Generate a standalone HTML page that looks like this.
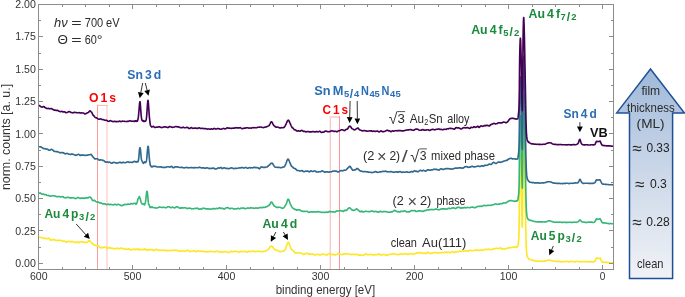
<!DOCTYPE html>
<html><head><meta charset="utf-8"><title>XPS survey spectra</title>
<style>
html,body{margin:0;padding:0;background:#fff;}
body{width:685px;height:297px;overflow:hidden;}
svg{display:block;font-family:"Liberation Sans",sans-serif;}
</style></head><body>
<svg width="685" height="297" viewBox="0 0 685 297">
<rect width="685" height="297" fill="#fff"/>
<path d="M107,105 V270" stroke="#ffdede" stroke-width="2" fill="none"/>
<path d="M97,105.4 H108" stroke="#ffb4b4" stroke-width="1" fill="none"/>
<path d="M97.5,104.9 V270" stroke="#ff9a9a" stroke-width="1" fill="none"/>
<path d="M330.3,116.2 V270" stroke="#ffc4c4" stroke-width="1.3" fill="none"/>
<path d="M329.6,117 H340" stroke="#ffd6d6" stroke-width="2" fill="none"/>
<path d="M339.5,116.2 V270" stroke="#ff9494" stroke-width="1" fill="none"/>
<clipPath id="cp"><rect x="38.5" y="4.5" width="575" height="265"/></clipPath>
<g clip-path="url(#cp)">
<path d="M38.6,237.4 L39.1,237.3 L39.6,237.2 L40.1,237.2 L40.6,237.4 L41.1,237.6 L41.6,237.7 L42.1,237.8 L42.6,237.9 L43.1,238.1 L43.6,238.2 L44.1,238.4 L44.6,238.4 L45.1,238.6 L45.6,238.5 L46.1,238.5 L46.6,238.5 L47.1,238.7 L47.6,238.7 L48.1,238.3 L48.6,238.1 L49.1,238.4 L49.6,239.1 L50.1,239.9 L50.6,240.1 L51.1,240.2 L51.6,239.9 L52.1,239.9 L52.6,239.8 L53.1,239.7 L53.6,239.6 L54.1,239.6 L54.6,239.8 L55.1,240.0 L55.6,240.3 L56.1,240.3 L56.6,240.4 L57.1,240.4 L57.6,240.5 L58.1,240.4 L58.6,240.4 L59.1,240.3 L59.6,240.2 L60.1,240.2 L60.6,240.3 L61.1,240.5 L61.6,240.7 L62.1,241.0 L62.6,241.1 L63.1,241.1 L63.6,241.1 L64.1,241.1 L64.6,241.3 L65.1,241.5 L65.6,241.7 L66.1,242.0 L66.6,242.1 L67.1,242.0 L67.6,241.7 L68.1,241.4 L68.6,241.4 L69.1,241.5 L69.6,241.7 L70.1,241.6 L70.6,241.6 L71.1,241.6 L71.6,241.7 L72.1,241.5 L72.6,241.6 L73.1,241.8 L73.6,242.0 L74.1,242.1 L74.6,242.2 L75.1,242.5 L75.6,242.5 L76.1,242.6 L76.6,242.2 L77.1,242.0 L77.6,241.9 L78.1,242.3 L78.6,242.6 L79.1,242.5 L79.6,242.1 L80.1,241.8 L80.6,241.7 L81.1,241.7 L81.6,242.0 L82.1,242.0 L82.6,242.1 L83.1,242.0 L83.6,242.3 L84.1,242.3 L84.6,242.3 L85.1,242.3 L85.6,242.4 L86.1,242.5 L86.6,242.5 L87.1,242.3 L87.6,242.0 L88.1,241.4 L88.6,241.0 L89.1,240.6 L89.6,240.7 L90.1,241.2 L90.6,241.8 L91.1,242.5 L91.6,243.0 L92.1,243.5 L92.6,243.9 L93.1,244.1 L93.6,244.6 L94.1,245.0 L94.6,245.4 L95.1,245.4 L95.6,245.4 L96.1,245.5 L96.6,245.8 L97.1,245.9 L97.6,246.0 L98.1,245.9 L98.6,246.0 L99.1,246.5 L99.6,247.3 L100.1,247.7 L100.6,247.8 L101.1,247.6 L101.6,247.6 L102.1,247.6 L102.6,247.8 L103.1,247.5 L103.6,247.2 L104.1,247.0 L104.6,247.0 L105.1,247.1 L105.6,247.2 L106.1,247.5 L106.6,247.9 L107.1,248.2 L107.6,248.4 L108.1,248.2 L108.6,247.8 L109.1,247.5 L109.6,247.5 L110.1,247.8 L110.6,248.1 L111.1,248.2 L111.6,248.0 L112.1,248.0 L112.6,248.2 L113.1,248.5 L113.6,248.7 L114.1,248.7 L114.6,248.7 L115.1,248.6 L115.6,248.4 L116.1,248.3 L116.6,248.4 L117.1,248.4 L117.6,248.4 L118.1,248.2 L118.6,248.5 L119.1,248.7 L119.6,248.7 L120.1,248.4 L120.6,248.1 L121.1,248.0 L121.6,248.2 L122.1,248.5 L122.6,248.5 L123.1,248.5 L123.6,248.6 L124.1,249.0 L124.6,249.2 L125.1,249.2 L125.6,249.0 L126.1,249.0 L126.6,249.3 L127.1,249.4 L127.6,249.3 L128.1,249.0 L128.6,248.8 L129.1,248.9 L129.6,249.4 L130.1,249.8 L130.6,249.9 L131.1,249.7 L131.6,249.5 L132.1,249.3 L132.6,249.3 L133.1,249.5 L133.6,249.4 L134.1,249.2 L134.6,249.0 L135.0,249.2 L135.2,249.5 L135.4,249.7 L135.6,249.7 L135.8,249.5 L136.0,249.5 L136.2,249.5 L136.4,249.6 L136.6,249.5 L136.8,249.3 L137.0,249.1 L137.2,248.9 L137.4,249.0 L137.6,249.2 L137.8,249.2 L138.0,249.1 L138.2,249.0 L138.4,249.3 L138.6,249.6 L138.8,249.6 L139.0,249.5 L139.2,249.2 L139.4,249.2 L139.6,249.4 L139.8,249.8 L140.0,249.9 L140.2,250.0 L140.4,249.8 L140.6,249.7 L140.8,249.6 L141.0,249.4 L141.2,249.4 L141.4,249.4 L141.6,249.5 L141.8,249.5 L142.0,249.5 L142.2,249.5 L142.4,249.5 L142.6,249.6 L142.8,249.7 L143.0,249.8 L143.2,249.7 L143.4,249.6 L143.6,249.4 L143.8,249.4 L144.0,249.3 L144.2,249.4 L144.4,249.2 L144.6,249.2 L144.8,248.9 L145.0,248.9 L145.2,249.0 L145.4,249.3 L145.6,249.6 L145.8,249.7 L146.0,250.0 L146.2,250.0 L146.4,249.8 L146.6,249.6 L146.8,249.5 L147.0,249.8 L147.2,249.9 L147.4,250.0 L147.6,249.8 L147.8,249.8 L148.0,249.7 L148.2,249.9 L148.4,250.1 L148.6,250.0 L148.8,249.8 L149.0,249.5 L149.2,249.4 L149.4,249.5 L149.6,249.7 L149.8,249.8 L150.0,249.8 L150.2,249.7 L150.4,249.7 L150.6,249.6 L150.8,249.5 L151.0,249.4 L151.2,249.5 L151.4,249.7 L151.6,249.9 L151.8,249.9 L152.0,249.9 L152.2,249.8 L152.4,249.7 L152.6,249.9 L152.8,250.2 L153.0,250.4 L153.5,250.6 L154.0,250.4 L154.5,250.4 L155.0,250.0 L155.5,249.7 L156.0,249.3 L156.5,249.4 L157.0,249.6 L157.5,250.0 L158.0,250.2 L158.5,250.4 L159.0,250.3 L159.5,250.2 L160.0,250.1 L160.5,250.2 L161.0,250.4 L161.5,250.5 L162.0,250.4 L162.5,250.1 L163.0,249.9 L163.5,250.0 L164.0,250.3 L164.5,250.6 L165.0,250.4 L165.5,250.4 L166.0,250.2 L166.5,250.6 L167.0,250.5 L167.5,250.7 L168.0,250.5 L168.5,250.7 L169.0,250.6 L169.5,250.4 L170.0,250.2 L170.5,250.2 L171.0,250.4 L171.5,250.5 L172.0,250.6 L172.5,250.4 L173.0,250.4 L173.5,250.2 L174.0,250.2 L174.5,250.2 L175.0,250.3 L175.5,250.4 L176.0,250.2 L176.5,250.2 L177.0,250.2 L177.5,250.5 L178.0,250.8 L178.5,251.0 L179.0,251.1 L179.5,251.3 L180.0,251.2 L180.5,251.1 L181.0,250.9 L181.5,250.9 L182.0,250.9 L182.5,251.0 L183.0,250.9 L183.5,251.0 L184.0,251.0 L184.5,251.2 L185.0,251.2 L185.5,251.1 L186.0,250.8 L186.5,250.6 L187.0,250.5 L187.5,250.4 L188.0,250.4 L188.5,250.5 L189.0,251.1 L189.5,251.5 L190.0,251.7 L190.5,251.5 L191.0,251.3 L191.5,251.2 L192.0,251.2 L192.5,251.1 L193.0,250.9 L193.5,250.8 L194.0,250.8 L194.5,251.0 L195.0,251.3 L195.5,251.6 L196.0,251.7 L196.5,251.6 L197.0,251.1 L197.5,251.0 L198.0,250.9 L198.5,251.2 L199.0,251.3 L199.5,251.2 L200.0,251.0 L200.5,251.0 L201.0,251.2 L201.5,251.3 L202.0,251.4 L202.5,251.4 L203.0,251.4 L203.5,251.5 L204.0,251.5 L204.5,251.6 L205.0,251.6 L205.5,251.6 L206.0,251.6 L206.5,251.6 L207.0,251.7 L207.5,251.8 L208.0,251.9 L208.5,251.9 L209.0,251.6 L209.5,251.3 L210.0,251.2 L210.5,251.3 L211.0,251.5 L211.5,251.6 L212.0,251.5 L212.5,251.5 L213.0,251.5 L213.5,251.6 L214.0,251.8 L214.5,252.0 L215.0,251.8 L215.5,251.6 L216.0,251.4 L216.5,251.3 L217.0,251.2 L217.5,251.1 L218.0,251.5 L218.5,251.7 L219.0,251.9 L219.5,251.9 L220.0,251.9 L220.5,251.8 L221.0,251.8 L221.5,251.9 L222.0,252.0 L222.5,252.1 L223.0,252.1 L223.5,251.9 L224.0,251.7 L224.5,251.6 L225.0,251.7 L225.5,251.8 L226.0,251.8 L226.5,251.7 L227.0,251.9 L227.5,252.1 L228.0,252.4 L228.5,252.5 L229.0,252.5 L229.5,252.1 L230.0,251.8 L230.5,251.4 L231.0,251.4 L231.5,251.4 L232.0,251.6 L232.5,251.7 L233.0,251.6 L233.5,251.4 L234.0,251.3 L234.5,251.3 L235.0,251.3 L235.5,251.3 L236.0,251.2 L236.5,251.2 L237.0,251.5 L237.5,251.7 L238.0,252.0 L238.5,252.0 L239.0,252.1 L239.5,251.8 L240.0,251.7 L240.5,251.4 L241.0,251.3 L241.5,251.4 L242.0,251.6 L242.5,251.7 L243.0,251.5 L243.5,251.4 L244.0,251.4 L244.5,251.4 L245.0,251.4 L245.5,251.5 L246.0,251.8 L246.5,252.0 L247.0,252.1 L247.5,252.1 L248.0,251.7 L248.5,251.5 L249.0,251.1 L249.5,251.3 L250.0,251.3 L250.5,251.6 L251.0,251.5 L251.5,251.5 L252.0,251.3 L252.5,251.2 L253.0,251.1 L253.5,251.2 L254.0,251.2 L254.5,251.5 L255.0,251.6 L255.5,251.8 L256.0,251.6 L256.5,251.4 L257.0,251.3 L257.5,251.3 L258.0,251.4 L258.5,251.4 L259.0,251.5 L259.5,251.4 L260.0,251.3 L260.5,251.2 L261.0,251.4 L261.5,251.7 L262.0,251.9 L262.5,251.8 L263.0,251.5 L263.5,251.4 L264.0,251.3 L264.5,251.3 L265.0,251.2 L265.5,251.1 L266.0,250.8 L266.5,250.5 L267.0,250.2 L267.5,250.0 L268.0,249.7 L268.5,249.3 L269.0,248.6 L269.5,247.8 L270.0,247.0 L270.5,246.4 L271.0,246.1 L271.5,246.1 L272.0,246.4 L272.5,246.9 L273.0,247.6 L273.5,248.3 L274.0,248.9 L274.5,249.3 L275.0,249.6 L275.5,249.8 L276.0,250.0 L276.5,250.2 L277.0,250.3 L277.5,250.5 L278.0,250.8 L278.5,251.0 L279.0,251.3 L279.5,251.3 L280.0,251.6 L280.5,251.6 L281.0,251.6 L281.5,251.4 L282.0,251.4 L282.5,251.3 L283.0,251.2 L283.5,251.0 L284.0,250.9 L284.5,250.6 L285.0,249.9 L285.5,248.9 L286.0,247.6 L286.5,246.1 L287.0,244.6 L287.5,243.3 L288.0,242.4 L288.5,242.3 L289.0,243.2 L289.5,244.5 L290.0,246.0 L290.5,247.4 L291.0,248.5 L291.5,249.3 L292.0,249.9 L292.5,250.2 L293.0,250.5 L293.5,251.0 L294.0,251.6 L294.5,252.4 L295.0,252.7 L295.5,252.9 L296.0,252.9 L296.5,252.8 L297.0,252.8 L297.5,252.8 L298.0,252.7 L298.5,252.7 L299.0,252.7 L299.5,252.9 L300.0,253.0 L300.5,253.2 L301.0,253.2 L301.5,253.2 L302.0,253.2 L302.5,253.6 L303.0,254.1 L303.5,254.5 L304.0,254.3 L304.5,254.2 L305.0,253.9 L305.5,253.9 L306.0,253.5 L306.5,253.2 L307.0,253.3 L307.5,253.6 L308.0,253.9 L308.5,253.9 L309.0,254.0 L309.5,253.8 L310.0,253.9 L310.5,254.0 L311.0,254.3 L311.5,254.2 L312.0,254.1 L312.5,254.0 L313.0,254.1 L313.5,254.3 L314.0,254.6 L314.5,254.9 L315.0,255.1 L315.5,254.9 L316.0,254.6 L316.5,254.3 L317.0,254.3 L317.5,254.4 L318.0,254.6 L318.5,254.6 L319.0,254.5 L319.5,254.6 L320.0,254.9 L320.5,254.9 L321.0,254.8 L321.5,254.5 L322.0,254.4 L322.5,254.1 L323.0,254.2 L323.5,254.2 L324.0,254.3 L324.5,254.4 L325.0,254.5 L325.5,254.7 L326.0,254.9 L326.5,255.0 L327.0,254.9 L327.5,254.5 L328.0,254.0 L328.5,253.7 L329.0,253.7 L329.5,253.8 L330.0,254.1 L330.5,254.4 L331.0,254.7 L331.5,254.6 L332.0,254.4 L332.5,254.2 L333.0,254.4 L333.5,254.6 L334.0,254.9 L334.5,254.9 L335.0,254.9 L335.5,254.7 L336.0,254.6 L336.5,254.5 L337.0,254.3 L337.5,254.0 L338.0,253.6 L338.5,253.4 L339.0,253.6 L339.5,253.8 L340.0,254.2 L340.5,254.3 L341.0,254.4 L341.5,254.4 L342.0,254.6 L342.5,254.5 L343.0,254.4 L343.5,253.9 L344.0,253.7 L344.5,253.8 L345.0,254.1 L345.5,254.0 L346.0,253.8 L346.5,253.7 L347.0,253.6 L347.5,253.7 L348.0,253.7 L348.5,253.9 L349.0,254.1 L349.5,254.2 L350.0,254.3 L350.5,254.4 L351.0,254.6 L351.5,254.5 L352.0,254.3 L352.5,254.3 L353.0,254.3 L353.5,254.5 L354.0,254.4 L354.5,254.4 L355.0,254.6 L355.5,254.6 L356.0,254.5 L356.5,254.4 L357.0,254.3 L357.5,254.5 L358.0,254.6 L358.5,255.1 L359.0,255.2 L359.5,255.3 L360.0,254.9 L360.5,254.8 L361.0,254.9 L361.5,255.1 L362.0,255.3 L362.5,255.4 L363.0,255.5 L363.5,255.4 L364.0,255.1 L364.5,254.6 L365.0,254.2 L365.5,253.9 L366.0,253.9 L366.5,254.1 L367.0,254.4 L367.5,254.7 L368.0,254.8 L368.5,254.7 L369.0,254.5 L369.5,254.6 L370.0,254.6 L370.5,254.5 L371.0,254.4 L371.5,254.4 L372.0,254.6 L372.5,254.7 L373.0,254.8 L373.5,254.8 L374.0,254.9 L374.5,254.8 L375.0,254.8 L375.5,254.6 L376.0,254.7 L376.5,254.7 L377.0,254.8 L377.5,254.6 L378.0,254.4 L378.5,254.0 L379.0,253.9 L379.5,254.1 L380.0,254.5 L380.5,254.9 L381.0,255.1 L381.5,255.0 L382.0,254.8 L382.5,254.7 L383.0,254.7 L383.5,254.5 L384.0,254.4 L384.5,254.6 L385.0,254.8 L385.5,255.1 L386.0,255.1 L386.5,255.2 L387.0,255.0 L387.5,255.0 L388.0,254.8 L388.5,254.8 L389.0,254.6 L389.5,254.4 L390.0,254.2 L390.5,254.2 L391.0,254.3 L391.5,254.3 L392.0,254.1 L392.5,253.8 L393.0,253.7 L393.5,253.7 L394.0,253.9 L394.5,254.1 L395.0,254.2 L395.5,254.2 L396.0,254.2 L396.5,254.2 L397.0,254.5 L397.5,254.6 L398.0,254.7 L398.5,254.5 L399.0,254.4 L399.5,254.3 L400.0,254.0 L400.5,253.8 L401.0,253.7 L401.5,253.9 L402.0,254.2 L402.5,254.3 L403.0,254.3 L403.5,254.1 L404.0,253.9 L404.5,253.7 L405.0,253.5 L405.5,253.5 L406.0,253.7 L406.5,254.0 L407.0,254.1 L407.5,254.4 L408.0,254.4 L408.5,254.4 L409.0,254.1 L409.5,253.9 L410.0,253.7 L410.5,253.7 L411.0,253.8 L411.5,253.9 L412.0,254.1 L412.5,254.2 L413.0,254.1 L413.5,253.9 L414.0,253.7 L414.5,253.7 L415.0,253.7 L415.5,253.5 L416.0,253.2 L416.5,252.9 L417.0,253.0 L417.5,252.9 L418.0,252.9 L418.5,252.6 L419.0,252.6 L419.5,252.5 L420.0,252.6 L420.5,252.8 L421.0,252.9 L421.5,253.1 L422.0,253.1 L422.5,253.3 L423.0,253.4 L423.5,253.4 L424.0,253.3 L424.5,253.1 L425.0,253.2 L425.5,253.4 L426.0,253.5 L426.5,253.2 L427.0,252.6 L427.5,252.2 L428.0,252.2 L428.5,252.5 L429.0,252.9 L429.5,253.2 L430.0,253.3 L430.5,253.4 L431.0,253.4 L431.5,253.4 L432.0,253.3 L432.5,253.2 L433.0,252.9 L433.5,252.7 L434.0,252.5 L434.5,252.5 L435.0,252.4 L435.5,252.4 L436.0,252.6 L436.5,252.9 L437.0,253.1 L437.5,253.0 L438.0,252.7 L438.5,252.6 L439.0,252.7 L439.5,252.9 L440.0,253.1 L440.5,253.0 L441.0,252.8 L441.5,252.6 L442.0,252.5 L442.5,252.5 L443.0,252.5 L443.5,252.6 L444.0,252.5 L444.5,252.4 L445.0,252.2 L445.5,252.1 L446.0,252.1 L446.5,252.2 L447.0,252.5 L447.5,252.3 L448.0,252.3 L448.5,252.1 L449.0,252.4 L449.5,252.6 L450.0,252.7 L450.5,252.5 L451.0,252.3 L451.5,252.0 L452.0,251.7 L452.5,251.5 L453.0,251.6 L453.5,252.1 L454.0,252.5 L454.5,252.6 L455.0,252.2 L455.5,251.9 L456.0,251.8 L456.5,251.8 L457.0,251.7 L457.5,251.6 L458.0,251.8 L458.5,251.8 L459.0,251.7 L459.5,251.3 L460.0,251.1 L460.5,251.2 L461.0,251.2 L461.5,251.3 L462.0,251.3 L462.5,251.2 L463.0,251.2 L463.5,251.0 L464.0,250.7 L464.5,250.6 L465.0,250.6 L465.5,250.8 L466.0,251.0 L466.5,251.1 L467.0,251.1 L467.5,251.1 L468.0,251.2 L468.5,250.9 L469.0,250.7 L469.5,250.3 L470.0,250.3 L470.5,250.3 L471.0,250.5 L471.5,250.6 L472.0,250.8 L472.5,250.7 L473.0,250.6 L473.5,250.4 L474.0,250.5 L474.5,250.5 L475.0,250.5 L475.5,250.3 L476.0,250.2 L476.5,250.0 L477.0,249.9 L477.5,250.0 L478.0,250.1 L478.5,250.3 L479.0,250.4 L479.5,250.5 L480.0,250.4 L480.5,250.1 L481.0,249.9 L481.5,249.9 L482.0,250.2 L482.5,250.3 L483.0,250.3 L483.5,250.0 L484.0,249.8 L484.5,249.5 L485.0,249.3 L485.5,249.3 L486.0,249.4 L486.5,249.6 L487.0,249.6 L487.5,249.4 L488.0,249.1 L488.5,249.1 L489.0,249.2 L489.5,249.5 L490.0,249.7 L490.5,249.6 L491.0,249.5 L491.5,249.2 L492.0,249.2 L492.5,249.1 L493.0,249.2 L493.5,249.0 L494.0,249.0 L494.5,248.8 L495.0,248.6 L495.5,248.4 L496.0,248.2 L496.5,248.2 L497.0,248.3 L497.5,248.5 L498.0,248.6 L498.5,248.5 L499.0,248.5 L499.5,248.2 L500.0,247.9 L500.5,247.9 L501.0,248.2 L501.5,248.7 L502.0,248.9 L502.5,248.9 L503.0,248.9 L503.5,249.0 L504.0,249.1 L504.5,249.0 L505.0,248.9 L505.5,249.0 L506.0,248.8 L506.5,248.6 L507.0,248.2 L507.5,248.2 L508.0,248.1 L508.5,248.0 L509.0,247.8 L509.5,247.7 L510.0,247.8 L510.5,247.7 L511.0,247.7 L511.5,247.5 L512.0,247.3 L512.5,247.3 L513.0,247.4 L513.5,247.3 L514.0,247.2 L514.5,246.9 L515.0,246.9 L515.5,247.0 L516.0,247.1 L516.5,247.2 L517.0,246.9 L517.1,246.7 L517.2,246.3 L517.3,246.2 L517.4,246.3 L517.5,246.6 L517.6,246.5 L517.7,246.4 L517.8,246.1 L517.9,245.8 L518.0,245.4 L518.1,244.9 L518.2,244.3 L518.3,243.6 L518.4,242.7 L518.5,241.8 L518.6,240.8 L518.7,239.7 L518.8,238.4 L518.9,235.7 L519.0,230.8 L519.1,224.6 L519.2,218.0 L519.3,209.8 L519.4,199.4 L519.5,188.6 L519.6,179.1 L519.7,172.7 L519.8,168.7 L519.9,164.9 L520.0,161.5 L520.1,158.7 L520.2,156.5 L520.3,155.1 L520.4,154.6 L520.5,155.2 L520.6,156.8 L520.7,159.2 L520.8,162.2 L520.9,165.6 L521.0,169.1 L521.1,172.7 L521.2,177.0 L521.3,182.4 L521.4,188.6 L521.5,195.0 L521.6,201.3 L521.7,207.0 L521.8,211.5 L521.9,215.7 L522.0,219.8 L522.1,223.5 L522.2,226.1 L522.3,227.1 L522.4,224.3 L522.5,217.2 L522.6,208.0 L522.7,198.6 L522.8,187.6 L522.9,174.2 L523.0,161.7 L523.1,153.3 L523.2,148.3 L523.3,143.7 L523.4,139.7 L523.5,136.6 L523.6,134.6 L523.7,133.9 L523.8,134.6 L523.9,136.4 L524.0,139.1 L524.1,142.4 L524.2,145.9 L524.3,149.5 L524.4,153.3 L524.5,157.9 L524.6,163.0 L524.7,168.4 L524.8,173.9 L524.9,179.2 L525.0,184.5 L525.1,189.8 L525.2,195.3 L525.3,200.8 L525.4,206.2 L525.5,211.5 L525.6,217.0 L525.7,222.7 L525.8,228.2 L525.9,233.2 L526.0,237.4 L526.1,241.0 L526.2,244.3 L526.3,247.1 L526.4,249.1 L526.5,250.5 L526.6,251.7 L526.7,252.7 L526.8,253.5 L526.9,254.2 L527.0,254.9 L527.1,255.5 L527.2,256.0 L527.3,256.5 L527.4,256.8 L527.5,257.1 L527.6,257.3 L527.7,257.4 L527.8,257.6 L527.9,257.7 L528.0,257.5 L528.1,257.8 L528.2,258.2 L528.3,258.4 L528.4,258.5 L528.5,258.5 L528.6,258.6 L528.7,258.7 L528.8,258.9 L528.9,259.1 L529.0,259.2 L529.5,259.4 L530.0,259.5 L530.5,259.7 L531.0,259.8 L531.5,260.0 L532.0,260.1 L532.5,260.3 L533.0,260.3 L533.5,260.5 L534.0,260.6 L534.5,260.7 L535.0,260.9 L535.5,261.0 L536.0,261.0 L536.5,261.0 L537.0,261.1 L537.5,261.1 L538.0,261.1 L538.5,261.0 L539.0,261.0 L539.5,261.1 L540.0,261.2 L540.5,261.3 L541.0,261.3 L541.5,261.2 L542.0,261.3 L542.5,261.3 L543.0,261.3 L543.5,261.2 L544.0,261.1 L544.5,261.1 L545.0,261.1 L545.5,261.0 L546.0,260.9 L546.5,260.6 L547.0,260.4 L547.5,260.3 L548.0,260.2 L548.5,260.1 L549.0,260.1 L549.5,260.1 L550.0,260.2 L550.5,260.3 L551.0,260.5 L551.5,260.7 L552.0,260.7 L552.5,260.8 L553.0,260.9 L553.5,261.1 L554.0,261.2 L554.5,261.3 L555.0,261.2 L555.5,261.2 L556.0,261.3 L556.5,261.5 L557.0,261.6 L557.5,261.6 L558.0,261.5 L558.5,261.4 L559.0,261.4 L559.5,261.4 L560.0,261.5 L560.5,261.6 L561.0,261.6 L561.5,261.7 L562.0,261.7 L562.5,261.6 L563.0,261.6 L563.5,261.7 L564.0,261.7 L564.5,261.7 L565.0,261.6 L565.5,261.5 L566.0,261.5 L566.5,261.5 L567.0,261.4 L567.5,261.5 L568.0,261.6 L568.5,261.7 L569.0,261.8 L569.5,261.7 L570.0,261.6 L570.5,261.4 L571.0,261.3 L571.5,261.4 L572.0,261.5 L572.5,261.5 L573.0,261.6 L573.5,261.7 L574.0,261.8 L574.5,261.9 L575.0,261.8 L575.5,261.7 L576.0,261.5 L576.5,261.5 L577.0,261.4 L577.5,261.4 L578.0,261.4 L578.5,261.5 L579.0,261.6 L579.5,261.7 L580.0,261.8 L580.5,261.7 L581.0,261.8 L581.5,261.7 L582.0,261.7 L582.5,261.6 L583.0,261.5 L583.5,261.5 L584.0,261.6 L584.5,261.6 L585.0,261.7 L585.5,261.7 L586.0,261.6 L586.5,261.7 L587.0,261.7 L587.5,261.9 L588.0,261.9 L588.5,261.8 L589.0,261.7 L589.5,261.6 L590.0,261.7 L590.5,261.8 L591.0,261.8 L591.5,261.8 L592.0,261.8 L592.5,261.8 L593.0,261.8 L593.5,261.8 L594.0,261.7 L594.5,261.5 L595.0,261.1 L595.5,260.2 L596.0,258.8 L596.5,258.0 L597.0,258.1 L597.5,258.3 L598.0,258.5 L598.5,258.5 L599.0,258.4 L599.5,258.2 L600.0,258.0 L600.5,258.6 L601.0,259.9 L601.5,260.9 L602.0,261.7 L602.5,262.1 L603.0,262.1 L603.5,262.2 L604.0,262.2 L604.5,262.3 L605.0,262.4 L605.5,262.3 L606.0,262.3 L606.5,262.4 L607.0,262.5 L607.5,262.6 L608.0,262.6 L608.5,262.6 L609.0,262.7 L609.5,262.7 L610.0,262.7 L610.5,262.7 L611.0,262.7 L611.5,262.8 L612.0,262.8 L612.5,262.8 L613.0,262.7 L613.5,262.7" fill="none" stroke="#fde725" stroke-width="1.65" stroke-linejoin="round" stroke-linecap="butt"/>
<path d="M38.6,193.6 L39.1,193.3 L39.6,193.1 L40.1,192.9 L40.6,193.2 L41.1,193.6 L41.6,194.0 L42.1,194.1 L42.6,194.2 L43.1,194.1 L43.6,194.2 L44.1,194.4 L44.6,194.7 L45.1,194.7 L45.6,194.6 L46.1,194.8 L46.6,195.2 L47.1,195.5 L47.6,195.5 L48.1,195.4 L48.6,195.5 L49.1,195.7 L49.6,196.0 L50.1,196.2 L50.6,196.2 L51.1,196.0 L51.6,195.9 L52.1,195.7 L52.6,195.7 L53.1,195.7 L53.6,195.8 L54.1,195.8 L54.6,196.0 L55.1,196.1 L55.6,196.3 L56.1,196.5 L56.6,196.6 L57.1,196.7 L57.6,196.6 L58.1,196.6 L58.6,196.5 L59.1,196.5 L59.6,196.6 L60.1,196.8 L60.6,197.0 L61.1,196.9 L61.6,196.8 L62.1,196.7 L62.6,196.6 L63.1,196.7 L63.6,197.2 L64.1,197.6 L64.6,197.8 L65.1,197.7 L65.6,197.7 L66.1,197.6 L66.6,197.6 L67.1,197.5 L67.6,197.3 L68.1,197.4 L68.6,197.4 L69.1,197.5 L69.6,197.7 L70.1,197.9 L70.6,197.9 L71.1,197.9 L71.6,197.8 L72.1,197.8 L72.6,197.7 L73.1,197.8 L73.6,197.9 L74.1,198.1 L74.6,198.3 L75.1,198.4 L75.6,198.6 L76.1,198.5 L76.6,198.2 L77.1,197.8 L77.6,197.6 L78.1,197.4 L78.6,197.7 L79.1,197.9 L79.6,198.3 L80.1,198.4 L80.6,198.2 L81.1,198.0 L81.6,198.0 L82.1,198.2 L82.6,198.1 L83.1,198.1 L83.6,198.1 L84.1,198.3 L84.6,198.3 L85.1,198.1 L85.6,198.1 L86.1,197.9 L86.6,197.9 L87.1,197.7 L87.6,197.9 L88.1,197.8 L88.6,197.7 L89.1,197.2 L89.6,197.0 L90.1,197.0 L90.6,197.5 L91.1,198.1 L91.6,198.8 L92.1,199.7 L92.6,200.5 L93.1,200.7 L93.6,200.5 L94.1,200.2 L94.6,200.4 L95.1,200.8 L95.6,201.3 L96.1,201.7 L96.6,201.9 L97.1,202.1 L97.6,202.1 L98.1,202.1 L98.6,202.1 L99.1,202.5 L99.6,202.8 L100.1,203.1 L100.6,202.9 L101.1,202.9 L101.6,203.1 L102.1,203.5 L102.6,203.8 L103.1,203.8 L103.6,203.8 L104.1,203.8 L104.6,203.8 L105.1,203.9 L105.6,204.2 L106.1,204.5 L106.6,204.6 L107.1,204.5 L107.6,204.2 L108.1,204.1 L108.6,204.2 L109.1,204.6 L109.6,204.6 L110.1,204.5 L110.6,204.3 L111.1,204.4 L111.6,204.6 L112.1,204.7 L112.6,204.8 L113.1,204.9 L113.6,204.8 L114.1,204.6 L114.6,204.3 L115.1,204.3 L115.6,204.5 L116.1,204.8 L116.6,204.9 L117.1,204.7 L117.6,204.4 L118.1,204.3 L118.6,204.5 L119.1,204.6 L119.6,204.7 L120.1,204.9 L120.6,205.2 L121.1,205.6 L121.6,205.7 L122.1,205.6 L122.6,205.2 L123.1,205.1 L123.6,204.8 L124.1,204.8 L124.6,204.5 L125.1,204.4 L125.6,204.4 L126.1,204.6 L126.6,204.5 L127.1,204.4 L127.6,204.1 L128.1,204.1 L128.6,204.1 L129.1,204.4 L129.6,204.3 L130.1,204.2 L130.6,203.8 L131.1,203.5 L131.6,203.6 L132.1,203.8 L132.6,204.0 L133.1,203.8 L133.6,203.6 L134.1,203.3 L134.6,203.2 L135.0,203.2 L135.2,203.3 L135.4,203.7 L135.6,203.9 L135.8,204.1 L136.0,204.1 L136.2,204.2 L136.4,204.0 L136.6,203.6 L136.8,203.0 L137.0,202.5 L137.2,202.0 L137.4,201.3 L137.6,200.4 L137.8,199.6 L138.0,199.0 L138.2,198.6 L138.4,198.4 L138.6,198.2 L138.8,197.7 L139.0,197.0 L139.2,196.5 L139.4,196.6 L139.6,197.1 L139.8,197.7 L140.0,198.2 L140.2,198.6 L140.4,199.3 L140.6,199.9 L140.8,200.9 L141.0,201.8 L141.2,202.5 L141.4,202.9 L141.6,203.0 L141.8,203.4 L142.0,203.7 L142.2,203.9 L142.4,204.0 L142.6,204.0 L142.8,204.2 L143.0,204.1 L143.2,204.0 L143.4,203.9 L143.6,204.0 L143.8,204.2 L144.0,204.5 L144.2,204.7 L144.4,204.9 L144.6,204.7 L144.8,204.3 L145.0,203.6 L145.2,202.9 L145.4,202.2 L145.6,201.2 L145.8,199.9 L146.0,198.2 L146.2,196.3 L146.4,194.3 L146.6,192.5 L146.8,191.5 L147.0,191.3 L147.2,191.7 L147.4,192.7 L147.6,194.3 L147.8,196.5 L148.0,198.8 L148.2,200.9 L148.4,202.7 L148.6,203.9 L148.8,204.5 L149.0,204.7 L149.2,205.0 L149.4,205.3 L149.6,206.0 L149.8,206.6 L150.0,207.2 L150.2,207.6 L150.4,207.6 L150.6,207.3 L150.8,207.0 L151.0,207.0 L151.2,207.3 L151.4,207.3 L151.6,207.2 L151.8,206.9 L152.0,206.9 L152.2,206.9 L152.4,207.0 L152.6,207.2 L152.8,207.4 L153.0,207.5 L153.5,207.7 L154.0,207.7 L154.5,207.7 L155.0,207.8 L155.5,207.9 L156.0,208.1 L156.5,208.0 L157.0,208.0 L157.5,207.7 L158.0,207.7 L158.5,207.3 L159.0,207.2 L159.5,207.0 L160.0,207.2 L160.5,207.2 L161.0,207.3 L161.5,207.4 L162.0,207.5 L162.5,207.5 L163.0,207.4 L163.5,207.2 L164.0,207.3 L164.5,207.4 L165.0,207.6 L165.5,207.7 L166.0,207.8 L166.5,207.6 L167.0,207.2 L167.5,206.9 L168.0,206.7 L168.5,206.7 L169.0,206.7 L169.5,206.9 L170.0,207.2 L170.5,207.6 L171.0,207.8 L171.5,207.7 L172.0,207.3 L172.5,207.1 L173.0,207.2 L173.5,207.5 L174.0,207.7 L174.5,207.9 L175.0,207.8 L175.5,207.6 L176.0,207.1 L176.5,206.7 L177.0,206.7 L177.5,206.8 L178.0,207.2 L178.5,207.5 L179.0,207.9 L179.5,208.0 L180.0,208.2 L180.5,208.0 L181.0,208.1 L181.5,207.8 L182.0,207.8 L182.5,207.8 L183.0,208.0 L183.5,208.0 L184.0,207.8 L184.5,207.7 L185.0,207.7 L185.5,207.9 L186.0,208.0 L186.5,208.3 L187.0,208.5 L187.5,208.6 L188.0,208.3 L188.5,208.2 L189.0,208.1 L189.5,208.2 L190.0,208.2 L190.5,208.3 L191.0,208.6 L191.5,208.8 L192.0,208.8 L192.5,208.7 L193.0,208.8 L193.5,208.7 L194.0,208.7 L194.5,208.5 L195.0,208.4 L195.5,208.4 L196.0,208.5 L196.5,208.4 L197.0,208.2 L197.5,208.1 L198.0,208.4 L198.5,208.9 L199.0,209.2 L199.5,209.1 L200.0,208.9 L200.5,208.9 L201.0,209.1 L201.5,209.2 L202.0,208.9 L202.5,208.5 L203.0,208.1 L203.5,208.2 L204.0,208.3 L204.5,208.6 L205.0,208.5 L205.5,208.6 L206.0,208.7 L206.5,208.9 L207.0,208.9 L207.5,208.8 L208.0,208.8 L208.5,208.9 L209.0,209.1 L209.5,209.1 L210.0,209.0 L210.5,209.0 L211.0,209.1 L211.5,209.2 L212.0,209.0 L212.5,208.8 L213.0,208.6 L213.5,208.5 L214.0,208.5 L214.5,208.8 L215.0,208.8 L215.5,208.7 L216.0,208.5 L216.5,208.4 L217.0,208.5 L217.5,208.7 L218.0,208.6 L218.5,208.4 L219.0,207.9 L219.5,207.9 L220.0,207.9 L220.5,208.4 L221.0,208.5 L221.5,208.4 L222.0,208.2 L222.5,208.3 L223.0,208.5 L223.5,208.8 L224.0,209.1 L224.5,209.0 L225.0,208.7 L225.5,208.2 L226.0,207.9 L226.5,207.8 L227.0,207.7 L227.5,207.6 L228.0,207.6 L228.5,208.0 L229.0,208.3 L229.5,208.7 L230.0,208.7 L230.5,208.6 L231.0,208.2 L231.5,208.2 L232.0,208.2 L232.5,208.4 L233.0,208.6 L233.5,208.9 L234.0,209.1 L234.5,209.1 L235.0,208.8 L235.5,208.7 L236.0,208.7 L236.5,208.8 L237.0,208.8 L237.5,208.5 L238.0,208.4 L238.5,208.3 L239.0,208.6 L239.5,208.9 L240.0,208.8 L240.5,208.6 L241.0,208.0 L241.5,208.0 L242.0,208.0 L242.5,208.2 L243.0,208.2 L243.5,208.0 L244.0,208.1 L244.5,208.3 L245.0,208.7 L245.5,208.7 L246.0,208.6 L246.5,208.4 L247.0,208.2 L247.5,208.0 L248.0,207.9 L248.5,208.1 L249.0,208.3 L249.5,208.2 L250.0,208.0 L250.5,207.7 L251.0,207.8 L251.5,207.9 L252.0,208.0 L252.5,208.0 L253.0,208.0 L253.5,208.1 L254.0,208.2 L254.5,208.3 L255.0,208.2 L255.5,208.0 L256.0,207.9 L256.5,208.0 L257.0,208.1 L257.5,208.2 L258.0,208.1 L258.5,208.0 L259.0,207.9 L259.5,207.7 L260.0,207.5 L260.5,207.5 L261.0,207.5 L261.5,207.8 L262.0,207.6 L262.5,207.5 L263.0,207.3 L263.5,207.4 L264.0,207.5 L264.5,207.4 L265.0,207.2 L265.5,206.9 L266.0,206.9 L266.5,206.7 L267.0,206.6 L267.5,206.2 L268.0,205.9 L268.5,205.5 L269.0,205.4 L269.5,204.9 L270.0,204.2 L270.5,203.1 L271.0,202.2 L271.5,202.0 L272.0,202.4 L272.5,203.3 L273.0,204.1 L273.5,205.1 L274.0,205.8 L274.5,206.2 L275.0,206.3 L275.5,206.7 L276.0,207.1 L276.5,207.4 L277.0,207.4 L277.5,207.4 L278.0,207.4 L278.5,207.4 L279.0,207.3 L279.5,207.2 L280.0,207.3 L280.5,207.5 L281.0,207.7 L281.5,207.9 L282.0,208.1 L282.5,208.2 L283.0,208.1 L283.5,208.0 L284.0,207.5 L284.5,207.0 L285.0,206.0 L285.5,205.2 L286.0,204.3 L286.5,203.3 L287.0,201.8 L287.5,200.3 L288.0,199.2 L288.5,199.2 L289.0,200.1 L289.5,201.7 L290.0,203.2 L290.5,204.4 L291.0,205.3 L291.5,206.2 L292.0,207.1 L292.5,207.9 L293.0,208.2 L293.5,208.5 L294.0,208.9 L294.5,209.3 L295.0,209.3 L295.5,209.4 L296.0,209.7 L296.5,210.1 L297.0,210.2 L297.5,209.8 L298.0,209.7 L298.5,209.8 L299.0,209.9 L299.5,209.9 L300.0,210.1 L300.5,210.5 L301.0,210.7 L301.5,211.0 L302.0,211.1 L302.5,211.2 L303.0,211.4 L303.5,211.4 L304.0,211.4 L304.5,211.4 L305.0,211.5 L305.5,211.5 L306.0,211.3 L306.5,211.2 L307.0,211.2 L307.5,211.5 L308.0,212.1 L308.5,212.3 L309.0,212.4 L309.5,212.2 L310.0,211.9 L310.5,211.7 L311.0,211.8 L311.5,211.8 L312.0,211.9 L312.5,211.8 L313.0,211.8 L313.5,211.8 L314.0,211.9 L314.5,211.9 L315.0,212.0 L315.5,212.0 L316.0,211.9 L316.5,211.9 L317.0,211.8 L317.5,211.8 L318.0,211.6 L318.5,211.6 L319.0,211.7 L319.5,211.9 L320.0,212.0 L320.5,212.0 L321.0,212.1 L321.5,212.4 L322.0,212.5 L322.5,212.5 L323.0,212.3 L323.5,212.2 L324.0,212.2 L324.5,212.4 L325.0,212.5 L325.5,212.4 L326.0,212.3 L326.5,212.0 L327.0,212.0 L327.5,212.2 L328.0,212.4 L328.5,212.1 L329.0,211.7 L329.5,211.3 L330.0,211.6 L330.5,211.7 L331.0,211.9 L331.5,211.6 L332.0,211.7 L332.5,211.7 L333.0,212.0 L333.5,211.9 L334.0,212.1 L334.5,212.0 L335.0,212.0 L335.5,211.7 L336.0,211.4 L336.5,211.0 L337.0,210.9 L337.5,211.0 L338.0,211.0 L338.5,211.0 L339.0,210.9 L339.5,210.8 L340.0,210.7 L340.5,210.6 L341.0,210.7 L341.5,210.9 L342.0,211.0 L342.5,211.3 L343.0,211.4 L343.5,211.4 L344.0,210.9 L344.5,210.4 L345.0,210.3 L345.5,210.4 L346.0,210.6 L346.5,210.3 L347.0,209.8 L347.5,209.3 L348.0,208.7 L348.5,208.3 L349.0,207.9 L349.5,207.8 L350.0,208.0 L350.5,208.5 L351.0,209.0 L351.5,209.5 L352.0,209.9 L352.5,210.3 L353.0,210.4 L353.5,210.4 L354.0,210.3 L354.5,210.1 L355.0,210.0 L355.5,209.5 L356.0,209.3 L356.5,208.8 L357.0,209.1 L357.5,209.4 L358.0,210.0 L358.5,210.4 L359.0,210.8 L359.5,211.2 L360.0,211.7 L360.5,211.8 L361.0,211.5 L361.5,211.1 L362.0,211.3 L362.5,211.8 L363.0,212.1 L363.5,211.8 L364.0,211.7 L364.5,211.5 L365.0,211.5 L365.5,211.4 L366.0,211.4 L366.5,211.4 L367.0,211.5 L367.5,211.5 L368.0,211.5 L368.5,211.7 L369.0,211.7 L369.5,211.6 L370.0,211.4 L370.5,211.3 L371.0,211.4 L371.5,211.1 L372.0,211.0 L372.5,211.0 L373.0,211.3 L373.5,211.6 L374.0,211.7 L374.5,211.6 L375.0,211.5 L375.5,211.4 L376.0,211.5 L376.5,211.8 L377.0,211.9 L377.5,211.9 L378.0,212.0 L378.5,212.2 L379.0,212.1 L379.5,211.8 L380.0,211.3 L380.5,211.3 L381.0,211.3 L381.5,211.7 L382.0,211.8 L382.5,212.0 L383.0,211.7 L383.5,211.6 L384.0,211.4 L384.5,211.5 L385.0,211.7 L385.5,211.7 L386.0,211.6 L386.5,211.6 L387.0,211.9 L387.5,212.2 L388.0,212.3 L388.5,212.2 L389.0,212.1 L389.5,212.2 L390.0,212.2 L390.5,212.0 L391.0,211.9 L391.5,211.8 L392.0,212.0 L392.5,211.7 L393.0,211.4 L393.5,211.0 L394.0,210.6 L394.5,210.4 L395.0,210.3 L395.5,210.7 L396.0,211.0 L396.5,211.4 L397.0,211.6 L397.5,211.8 L398.0,211.8 L398.5,211.6 L399.0,211.7 L399.5,211.9 L400.0,212.0 L400.5,211.6 L401.0,211.2 L401.5,211.3 L402.0,211.4 L402.5,211.5 L403.0,211.4 L403.5,211.3 L404.0,211.0 L404.5,210.9 L405.0,211.0 L405.5,211.3 L406.0,211.6 L406.5,211.8 L407.0,212.0 L407.5,212.0 L408.0,211.9 L408.5,211.8 L409.0,211.8 L409.5,211.8 L410.0,211.5 L410.5,211.1 L411.0,210.7 L411.5,210.6 L412.0,210.6 L412.5,210.6 L413.0,210.7 L413.5,210.7 L414.0,210.8 L414.5,210.5 L415.0,210.6 L415.5,210.9 L416.0,211.4 L416.5,211.5 L417.0,211.5 L417.5,211.3 L418.0,211.1 L418.5,210.9 L419.0,210.8 L419.5,210.8 L420.0,210.9 L420.5,210.9 L421.0,211.0 L421.5,211.2 L422.0,211.3 L422.5,211.5 L423.0,211.4 L423.5,211.3 L424.0,210.8 L424.5,210.6 L425.0,210.5 L425.5,210.6 L426.0,210.4 L426.5,210.1 L427.0,209.7 L427.5,209.6 L428.0,209.9 L428.5,210.1 L429.0,210.0 L429.5,209.6 L430.0,209.5 L430.5,209.5 L431.0,209.7 L431.5,209.5 L432.0,209.4 L432.5,209.5 L433.0,209.7 L433.5,209.8 L434.0,209.7 L434.5,209.3 L435.0,209.2 L435.5,209.1 L436.0,209.2 L436.5,209.1 L437.0,209.2 L437.5,209.3 L438.0,209.7 L438.5,209.7 L439.0,209.7 L439.5,209.6 L440.0,209.5 L440.5,209.3 L441.0,209.0 L441.5,208.9 L442.0,208.9 L442.5,208.9 L443.0,208.8 L443.5,208.8 L444.0,208.9 L444.5,208.9 L445.0,208.9 L445.5,209.0 L446.0,209.1 L446.5,209.1 L447.0,208.9 L447.5,208.7 L448.0,208.4 L448.5,208.2 L449.0,208.3 L449.5,208.6 L450.0,208.8 L450.5,208.6 L451.0,208.4 L451.5,208.1 L452.0,208.1 L452.5,208.0 L453.0,207.9 L453.5,207.9 L454.0,207.9 L454.5,208.2 L455.0,208.4 L455.5,208.6 L456.0,208.3 L456.5,208.0 L457.0,207.5 L457.5,207.3 L458.0,207.4 L458.5,207.4 L459.0,207.5 L459.5,207.5 L460.0,207.8 L460.5,208.1 L461.0,208.1 L461.5,208.0 L462.0,207.8 L462.5,207.8 L463.0,207.8 L463.5,207.9 L464.0,207.6 L464.5,207.5 L465.0,207.5 L465.5,207.8 L466.0,207.8 L466.5,207.6 L467.0,207.5 L467.5,207.5 L468.0,207.5 L468.5,207.5 L469.0,207.7 L469.5,207.7 L470.0,207.7 L470.5,207.5 L471.0,207.3 L471.5,207.2 L472.0,207.1 L472.5,207.0 L473.0,207.2 L473.5,207.3 L474.0,207.6 L474.5,207.7 L475.0,207.8 L475.5,207.6 L476.0,207.3 L476.5,206.9 L477.0,206.7 L477.5,206.4 L478.0,206.4 L478.5,206.5 L479.0,206.5 L479.5,206.4 L480.0,206.1 L480.5,206.2 L481.0,206.4 L481.5,206.4 L482.0,206.3 L482.5,206.0 L483.0,205.9 L483.5,205.6 L484.0,205.5 L484.5,205.4 L485.0,205.5 L485.5,205.7 L486.0,205.6 L486.5,205.6 L487.0,205.4 L487.5,205.5 L488.0,205.3 L488.5,205.3 L489.0,205.2 L489.5,205.2 L490.0,205.3 L490.5,205.4 L491.0,205.4 L491.5,205.2 L492.0,204.9 L492.5,204.7 L493.0,204.8 L493.5,204.7 L494.0,204.5 L494.5,204.2 L495.0,204.0 L495.5,203.9 L496.0,204.1 L496.5,204.1 L497.0,204.4 L497.5,204.3 L498.0,204.2 L498.5,204.1 L499.0,204.2 L499.5,204.2 L500.0,203.8 L500.5,203.6 L501.0,203.5 L501.5,203.7 L502.0,203.8 L502.5,203.5 L503.0,203.2 L503.5,202.9 L504.0,203.0 L504.5,203.0 L505.0,202.9 L505.5,202.8 L506.0,202.8 L506.5,202.5 L507.0,202.1 L507.5,201.7 L508.0,201.4 L508.5,201.3 L509.0,201.0 L509.5,200.9 L510.0,200.6 L510.5,200.5 L511.0,200.6 L511.5,200.6 L512.0,200.7 L512.5,200.8 L513.0,201.0 L513.5,201.2 L514.0,201.3 L514.5,201.3 L515.0,201.1 L515.5,201.0 L516.0,201.1 L516.5,201.2 L517.0,201.0 L517.1,200.6 L517.2,200.3 L517.3,200.2 L517.4,200.4 L517.5,200.5 L517.6,200.4 L517.7,200.2 L517.8,200.0 L517.9,199.6 L518.0,199.2 L518.1,198.6 L518.2,198.0 L518.3,197.3 L518.4,196.4 L518.5,195.5 L518.6,194.6 L518.7,193.5 L518.8,192.3 L518.9,190.5 L519.0,187.5 L519.1,183.7 L519.2,179.2 L519.3,172.1 L519.4,161.8 L519.5,150.6 L519.6,140.5 L519.7,133.9 L519.8,129.9 L519.9,126.1 L520.0,122.7 L520.1,119.9 L520.2,117.7 L520.3,116.3 L520.4,115.8 L520.5,116.4 L520.6,118.0 L520.7,120.3 L520.8,123.3 L520.9,126.7 L521.0,130.3 L521.1,133.9 L521.2,138.2 L521.3,143.6 L521.4,149.8 L521.5,156.2 L521.6,162.5 L521.7,168.1 L521.8,172.7 L521.9,176.8 L522.0,181.0 L522.1,184.7 L522.2,187.3 L522.3,188.2 L522.4,185.4 L522.5,178.4 L522.6,169.1 L522.7,159.8 L522.8,148.8 L522.9,135.4 L523.0,122.9 L523.1,114.5 L523.2,109.5 L523.3,104.8 L523.4,100.9 L523.5,97.8 L523.6,95.8 L523.7,95.1 L523.8,95.8 L523.9,97.6 L524.0,100.3 L524.1,103.6 L524.2,107.1 L524.3,110.6 L524.4,114.5 L524.5,119.1 L524.6,124.2 L524.7,129.6 L524.8,135.1 L524.9,140.4 L525.0,145.6 L525.1,151.0 L525.2,156.5 L525.3,161.9 L525.4,167.4 L525.5,172.7 L525.6,178.2 L525.7,183.9 L525.8,189.4 L525.9,194.4 L526.0,198.6 L526.1,202.2 L526.2,205.5 L526.3,208.2 L526.4,210.2 L526.5,211.7 L526.6,212.9 L526.7,213.9 L526.8,214.7 L526.9,215.4 L527.0,216.0 L527.1,216.7 L527.2,217.2 L527.3,217.7 L527.4,218.0 L527.5,218.2 L527.6,218.4 L527.7,218.6 L527.8,218.7 L527.9,218.8 L528.0,219.1 L528.1,219.2 L528.2,219.3 L528.3,219.4 L528.4,219.4 L528.5,219.4 L528.6,219.4 L528.7,219.5 L528.8,219.6 L528.9,219.7 L529.0,219.9 L529.5,220.2 L530.0,220.3 L530.5,220.4 L531.0,220.5 L531.5,220.6 L532.0,220.8 L532.5,220.9 L533.0,221.1 L533.5,221.3 L534.0,221.5 L534.5,221.5 L535.0,221.6 L535.5,221.6 L536.0,221.7 L536.5,221.8 L537.0,221.9 L537.5,221.9 L538.0,221.9 L538.5,221.9 L539.0,221.9 L539.5,221.9 L540.0,221.9 L540.5,221.8 L541.0,221.8 L541.5,221.8 L542.0,221.9 L542.5,221.9 L543.0,222.0 L543.5,222.0 L544.0,222.0 L544.5,221.9 L545.0,221.9 L545.5,222.0 L546.0,221.9 L546.5,221.7 L547.0,221.4 L547.5,221.2 L548.0,221.0 L548.5,220.8 L549.0,220.7 L549.5,220.7 L550.0,220.9 L550.5,221.0 L551.0,221.2 L551.5,221.4 L552.0,221.6 L552.5,221.8 L553.0,221.9 L553.5,222.0 L554.0,222.1 L554.5,222.2 L555.0,222.3 L555.5,222.3 L556.0,222.2 L556.5,222.1 L557.0,222.1 L557.5,222.2 L558.0,222.3 L558.5,222.3 L559.0,222.2 L559.5,222.1 L560.0,222.1 L560.5,222.2 L561.0,222.3 L561.5,222.3 L562.0,222.4 L562.5,222.4 L563.0,222.4 L563.5,222.3 L564.0,222.2 L564.5,222.3 L565.0,222.3 L565.5,222.3 L566.0,222.3 L566.5,222.3 L567.0,222.4 L567.5,222.4 L568.0,222.3 L568.5,222.3 L569.0,222.2 L569.5,222.2 L570.0,222.2 L570.5,222.3 L571.0,222.3 L571.5,222.4 L572.0,222.4 L572.5,222.4 L573.0,222.3 L573.5,222.2 L574.0,222.2 L574.5,222.1 L575.0,222.2 L575.5,222.2 L576.0,222.3 L576.5,222.3 L577.0,222.2 L577.5,222.0 L578.0,221.7 L578.5,221.3 L579.0,220.8 L579.5,220.2 L580.0,219.9 L580.5,220.3 L581.0,221.0 L581.5,221.5 L582.0,221.9 L582.5,222.0 L583.0,222.0 L583.5,222.0 L584.0,222.1 L584.5,222.3 L585.0,222.4 L585.5,222.4 L586.0,222.4 L586.5,222.5 L587.0,222.5 L587.5,222.4 L588.0,222.1 L588.5,222.0 L589.0,222.0 L589.5,222.1 L590.0,222.2 L590.5,222.1 L591.0,222.1 L591.5,222.1 L592.0,222.3 L592.5,222.4 L593.0,222.5 L593.5,222.5 L594.0,222.3 L594.5,222.0 L595.0,221.6 L595.5,220.8 L596.0,219.5 L596.5,218.9 L597.0,219.0 L597.5,219.3 L598.0,219.4 L598.5,219.3 L599.0,219.1 L599.5,218.8 L600.0,218.7 L600.5,219.3 L601.0,220.5 L601.5,221.4 L602.0,222.3 L602.5,222.8 L603.0,222.9 L603.5,222.9 L604.0,222.8 L604.5,222.8 L605.0,222.9 L605.5,223.0 L606.0,223.2 L606.5,223.2 L607.0,223.3 L607.5,223.4 L608.0,223.5 L608.5,223.6 L609.0,223.6 L609.5,223.6 L610.0,223.6 L610.5,223.5 L611.0,223.5 L611.5,223.6 L612.0,223.7 L612.5,223.7 L613.0,223.8 L613.5,223.8" fill="none" stroke="#35b779" stroke-width="1.65" stroke-linejoin="round" stroke-linecap="butt"/>
<path d="M38.6,146.7 L39.1,146.7 L39.6,146.8 L40.1,146.7 L40.6,146.9 L41.1,147.0 L41.6,147.3 L42.1,147.6 L42.6,148.0 L43.1,148.4 L43.6,148.5 L44.1,148.6 L44.6,148.6 L45.1,148.7 L45.6,149.0 L46.1,149.0 L46.6,149.1 L47.1,149.0 L47.6,149.2 L48.1,149.6 L48.6,150.0 L49.1,150.2 L49.6,150.2 L50.1,150.1 L50.6,149.7 L51.1,149.4 L51.6,149.4 L52.1,149.6 L52.6,149.9 L53.1,150.4 L53.6,150.9 L54.1,151.3 L54.6,151.4 L55.1,151.5 L55.6,151.5 L56.1,151.6 L56.6,151.6 L57.1,151.6 L57.6,151.7 L58.1,151.9 L58.6,152.1 L59.1,152.4 L59.6,152.7 L60.1,152.7 L60.6,152.5 L61.1,152.6 L61.6,152.7 L62.1,152.8 L62.6,152.5 L63.1,152.8 L63.6,152.9 L64.1,153.3 L64.6,153.4 L65.1,153.8 L65.6,153.8 L66.1,153.7 L66.6,153.5 L67.1,153.4 L67.6,153.6 L68.1,153.8 L68.6,154.1 L69.1,154.2 L69.6,154.3 L70.1,154.4 L70.6,154.3 L71.1,154.3 L71.6,154.1 L72.1,154.2 L72.6,154.1 L73.1,154.3 L73.6,154.6 L74.1,154.8 L74.6,155.0 L75.1,155.0 L75.6,155.3 L76.1,155.3 L76.6,155.1 L77.1,154.9 L77.6,154.6 L78.1,154.5 L78.6,154.4 L79.1,154.5 L79.6,155.0 L80.1,155.4 L80.6,155.5 L81.1,155.1 L81.6,154.9 L82.1,155.0 L82.6,155.2 L83.1,155.3 L83.6,155.1 L84.1,155.1 L84.6,155.2 L85.1,155.4 L85.6,155.5 L86.1,155.4 L86.6,155.3 L87.1,155.1 L87.6,155.1 L88.1,155.0 L88.6,154.9 L89.1,154.8 L89.6,154.7 L90.1,154.6 L90.6,154.4 L91.1,154.4 L91.6,155.0 L92.1,155.7 L92.6,156.6 L93.1,157.0 L93.6,157.6 L94.1,158.0 L94.6,158.7 L95.1,158.9 L95.6,158.9 L96.1,158.7 L96.6,158.7 L97.1,158.8 L97.6,158.9 L98.1,159.3 L98.6,159.8 L99.1,160.1 L99.6,160.1 L100.1,159.9 L100.6,159.9 L101.1,160.0 L101.6,160.0 L102.1,160.0 L102.6,160.2 L103.1,160.4 L103.6,160.5 L104.1,160.9 L104.6,161.3 L105.1,161.8 L105.6,162.1 L106.1,162.1 L106.6,162.1 L107.1,161.9 L107.6,162.0 L108.1,162.3 L108.6,162.4 L109.1,162.3 L109.6,162.1 L110.1,162.4 L110.6,162.7 L111.1,163.0 L111.6,163.2 L112.1,163.2 L112.6,162.8 L113.1,162.5 L113.6,162.3 L114.1,162.5 L114.6,162.5 L115.1,162.6 L115.6,162.7 L116.1,163.0 L116.6,163.1 L117.1,163.1 L117.6,163.0 L118.1,162.9 L118.6,162.7 L119.1,162.4 L119.6,162.3 L120.1,162.2 L120.6,162.5 L121.1,162.8 L121.6,162.9 L122.1,162.7 L122.6,162.4 L123.1,162.4 L123.6,162.3 L124.1,162.6 L124.6,162.7 L125.1,162.7 L125.6,162.6 L126.1,162.4 L126.6,162.3 L127.1,162.1 L127.6,161.9 L128.1,161.9 L128.6,162.0 L129.1,162.4 L129.6,162.5 L130.1,162.3 L130.6,162.2 L131.1,162.3 L131.6,162.4 L132.1,162.5 L132.6,162.3 L133.1,162.1 L133.6,161.7 L134.1,161.4 L134.6,161.4 L135.0,161.6 L135.2,161.7 L135.4,161.9 L135.6,161.9 L135.8,161.8 L136.0,161.7 L136.2,161.6 L136.4,161.8 L136.6,161.9 L136.8,162.1 L137.0,162.0 L137.2,161.9 L137.4,161.6 L137.6,161.6 L137.8,161.7 L138.0,161.7 L138.2,161.2 L138.4,160.6 L138.6,159.5 L138.8,157.7 L139.0,155.3 L139.2,152.7 L139.4,150.6 L139.6,149.0 L139.8,148.1 L140.0,147.7 L140.2,148.0 L140.4,149.3 L140.6,151.1 L140.8,153.4 L141.0,155.6 L141.2,157.7 L141.4,159.0 L141.6,159.9 L141.8,160.5 L142.0,160.9 L142.2,161.4 L142.4,161.8 L142.6,162.2 L142.8,162.6 L143.0,162.9 L143.2,163.1 L143.4,163.4 L143.6,163.2 L143.8,162.9 L144.0,162.5 L144.2,162.3 L144.4,162.0 L144.6,161.8 L144.8,161.9 L145.0,162.2 L145.2,162.5 L145.4,162.6 L145.6,162.6 L145.8,162.3 L146.0,162.0 L146.2,161.5 L146.4,160.9 L146.6,159.7 L146.8,158.1 L147.0,155.9 L147.2,153.5 L147.4,151.0 L147.6,148.8 L147.8,147.1 L148.0,146.3 L148.2,146.3 L148.4,147.5 L148.6,149.3 L148.8,151.7 L149.0,154.2 L149.2,156.7 L149.4,158.9 L149.6,160.8 L149.8,162.3 L150.0,163.6 L150.2,164.8 L150.4,165.5 L150.6,165.6 L150.8,165.7 L151.0,166.1 L151.2,166.6 L151.4,166.8 L151.6,166.7 L151.8,166.6 L152.0,166.5 L152.2,166.6 L152.4,166.6 L152.6,166.8 L152.8,166.7 L153.0,166.5 L153.5,166.1 L154.0,166.2 L154.5,166.2 L155.0,166.5 L155.5,166.4 L156.0,166.5 L156.5,166.6 L157.0,166.8 L157.5,167.0 L158.0,167.0 L158.5,167.0 L159.0,166.9 L159.5,167.0 L160.0,167.0 L160.5,166.9 L161.0,166.8 L161.5,167.1 L162.0,167.3 L162.5,167.4 L163.0,167.4 L163.5,167.4 L164.0,167.4 L164.5,167.4 L165.0,167.5 L165.5,167.4 L166.0,167.2 L166.5,167.0 L167.0,166.7 L167.5,166.7 L168.0,166.7 L168.5,166.8 L169.0,166.9 L169.5,167.1 L170.0,167.0 L170.5,166.9 L171.0,166.5 L171.5,166.4 L172.0,166.6 L172.5,167.1 L173.0,167.6 L173.5,167.7 L174.0,167.5 L174.5,167.1 L175.0,166.9 L175.5,166.9 L176.0,166.9 L176.5,166.8 L177.0,166.8 L177.5,166.9 L178.0,167.0 L178.5,167.2 L179.0,167.3 L179.5,167.5 L180.0,167.5 L180.5,167.5 L181.0,167.3 L181.5,167.3 L182.0,167.3 L182.5,167.4 L183.0,167.7 L183.5,167.8 L184.0,167.9 L184.5,167.7 L185.0,167.7 L185.5,167.6 L186.0,167.6 L186.5,167.4 L187.0,167.4 L187.5,167.7 L188.0,167.8 L188.5,167.8 L189.0,167.7 L189.5,167.8 L190.0,167.7 L190.5,167.5 L191.0,167.5 L191.5,167.6 L192.0,167.8 L192.5,167.7 L193.0,167.6 L193.5,167.7 L194.0,167.9 L194.5,167.9 L195.0,167.6 L195.5,167.5 L196.0,167.5 L196.5,167.7 L197.0,167.7 L197.5,167.7 L198.0,167.7 L198.5,167.5 L199.0,167.3 L199.5,167.2 L200.0,167.4 L200.5,167.6 L201.0,167.8 L201.5,168.0 L202.0,167.9 L202.5,168.0 L203.0,167.9 L203.5,168.0 L204.0,167.8 L204.5,168.1 L205.0,168.2 L205.5,168.3 L206.0,168.0 L206.5,167.8 L207.0,167.8 L207.5,167.9 L208.0,168.1 L208.5,168.3 L209.0,168.6 L209.5,168.5 L210.0,168.4 L210.5,168.2 L211.0,168.2 L211.5,168.4 L212.0,168.5 L212.5,168.4 L213.0,168.0 L213.5,168.0 L214.0,168.2 L214.5,168.7 L215.0,168.9 L215.5,169.0 L216.0,168.9 L216.5,168.9 L217.0,168.6 L217.5,168.3 L218.0,168.0 L218.5,167.9 L219.0,168.1 L219.5,168.1 L220.0,167.9 L220.5,167.5 L221.0,167.5 L221.5,167.9 L222.0,168.4 L222.5,168.6 L223.0,168.3 L223.5,167.9 L224.0,167.7 L224.5,167.7 L225.0,167.9 L225.5,168.2 L226.0,168.4 L226.5,168.4 L227.0,168.4 L227.5,168.4 L228.0,168.6 L228.5,168.7 L229.0,168.6 L229.5,168.5 L230.0,168.3 L230.5,168.2 L231.0,167.9 L231.5,167.9 L232.0,167.9 L232.5,168.1 L233.0,168.4 L233.5,168.6 L234.0,168.6 L234.5,168.4 L235.0,168.3 L235.5,168.3 L236.0,168.3 L236.5,168.3 L237.0,168.3 L237.5,168.2 L238.0,168.2 L238.5,168.0 L239.0,168.0 L239.5,167.9 L240.0,168.0 L240.5,167.9 L241.0,167.8 L241.5,167.5 L242.0,167.5 L242.5,167.6 L243.0,167.8 L243.5,167.9 L244.0,168.1 L244.5,167.9 L245.0,167.6 L245.5,167.4 L246.0,167.6 L246.5,167.8 L247.0,168.1 L247.5,168.2 L248.0,168.1 L248.5,167.9 L249.0,167.7 L249.5,167.6 L250.0,167.8 L250.5,167.8 L251.0,167.8 L251.5,167.7 L252.0,167.8 L252.5,167.9 L253.0,167.7 L253.5,167.5 L254.0,167.2 L254.5,167.3 L255.0,167.4 L255.5,167.7 L256.0,167.6 L256.5,167.7 L257.0,167.6 L257.5,167.8 L258.0,167.9 L258.5,168.3 L259.0,168.6 L259.5,168.8 L260.0,168.3 L260.5,167.6 L261.0,167.0 L261.5,166.9 L262.0,167.0 L262.5,167.3 L263.0,167.4 L263.5,167.3 L264.0,167.4 L264.5,167.4 L265.0,167.4 L265.5,167.2 L266.0,167.0 L266.5,167.0 L267.0,167.0 L267.5,166.7 L268.0,166.2 L268.5,165.6 L269.0,165.3 L269.5,164.9 L270.0,164.4 L270.5,163.8 L271.0,163.3 L271.5,163.2 L272.0,163.1 L272.5,163.5 L273.0,164.1 L273.5,165.1 L274.0,165.9 L274.5,166.6 L275.0,167.0 L275.5,167.2 L276.0,167.2 L276.5,167.3 L277.0,167.2 L277.5,167.4 L278.0,167.4 L278.5,167.5 L279.0,167.4 L279.5,167.5 L280.0,167.5 L280.5,167.7 L281.0,167.7 L281.5,167.7 L282.0,167.4 L282.5,167.2 L283.0,167.0 L283.5,167.1 L284.0,166.9 L284.5,166.5 L285.0,165.7 L285.5,164.7 L286.0,163.5 L286.5,162.1 L287.0,160.5 L287.5,159.5 L288.0,159.0 L288.5,159.5 L289.0,160.4 L289.5,161.7 L290.0,162.9 L290.5,164.1 L291.0,165.3 L291.5,166.1 L292.0,166.6 L292.5,166.9 L293.0,167.4 L293.5,167.9 L294.0,168.3 L294.5,168.5 L295.0,168.6 L295.5,168.8 L296.0,169.3 L296.5,169.9 L297.0,170.4 L297.5,170.5 L298.0,170.5 L298.5,170.5 L299.0,170.7 L299.5,170.9 L300.0,170.9 L300.5,171.1 L301.0,170.9 L301.5,170.8 L302.0,170.6 L302.5,170.8 L303.0,171.3 L303.5,171.6 L304.0,171.8 L304.5,171.6 L305.0,171.4 L305.5,171.2 L306.0,171.1 L306.5,171.1 L307.0,171.0 L307.5,171.1 L308.0,171.2 L308.5,171.6 L309.0,171.8 L309.5,171.9 L310.0,171.4 L310.5,171.0 L311.0,170.8 L311.5,171.1 L312.0,171.4 L312.5,171.5 L313.0,171.5 L313.5,171.2 L314.0,171.1 L314.5,170.9 L315.0,171.0 L315.5,171.2 L316.0,171.7 L316.5,171.9 L317.0,172.0 L317.5,172.0 L318.0,172.1 L318.5,171.9 L319.0,171.8 L319.5,171.7 L320.0,171.8 L320.5,171.7 L321.0,171.5 L321.5,171.1 L322.0,170.9 L322.5,170.9 L323.0,171.2 L323.5,171.4 L324.0,171.7 L324.5,172.1 L325.0,172.2 L325.5,172.0 L326.0,171.8 L326.5,171.8 L327.0,171.9 L327.5,171.9 L328.0,171.9 L328.5,172.1 L329.0,172.1 L329.5,172.0 L330.0,171.7 L330.5,171.7 L331.0,171.8 L331.5,171.9 L332.0,171.6 L332.5,171.3 L333.0,171.1 L333.5,171.2 L334.0,171.1 L334.5,171.1 L335.0,170.9 L335.5,171.1 L336.0,171.1 L336.5,171.3 L337.0,171.5 L337.5,171.9 L338.0,172.0 L338.5,171.9 L339.0,171.6 L339.5,171.3 L340.0,171.1 L340.5,170.7 L341.0,170.6 L341.5,170.5 L342.0,170.7 L342.5,170.8 L343.0,170.8 L343.5,170.6 L344.0,170.2 L344.5,170.1 L345.0,170.2 L345.5,170.2 L346.0,170.0 L346.5,169.5 L347.0,168.9 L347.5,168.5 L348.0,167.9 L348.5,167.4 L349.0,166.8 L349.5,166.4 L350.0,166.4 L350.5,167.0 L351.0,167.8 L351.5,168.6 L352.0,169.3 L352.5,169.9 L353.0,170.3 L353.5,170.2 L354.0,170.0 L354.5,169.9 L355.0,170.0 L355.5,169.8 L356.0,169.4 L356.5,168.8 L357.0,168.5 L357.5,168.5 L358.0,168.9 L358.5,169.4 L359.0,169.9 L359.5,170.4 L360.0,170.8 L360.5,171.0 L361.0,171.1 L361.5,171.1 L362.0,171.2 L362.5,171.5 L363.0,171.7 L363.5,171.7 L364.0,171.5 L364.5,171.5 L365.0,171.6 L365.5,171.6 L366.0,171.7 L366.5,171.7 L367.0,171.9 L367.5,171.8 L368.0,172.0 L368.5,172.1 L369.0,172.3 L369.5,172.2 L370.0,172.2 L370.5,172.2 L371.0,172.4 L371.5,172.5 L372.0,172.6 L372.5,172.5 L373.0,172.4 L373.5,172.3 L374.0,172.2 L374.5,172.0 L375.0,171.6 L375.5,171.5 L376.0,171.7 L376.5,172.0 L377.0,172.3 L377.5,172.4 L378.0,172.3 L378.5,172.2 L379.0,172.1 L379.5,171.9 L380.0,171.9 L380.5,171.9 L381.0,171.9 L381.5,171.8 L382.0,171.6 L382.5,171.4 L383.0,171.4 L383.5,171.4 L384.0,171.5 L384.5,171.4 L385.0,171.2 L385.5,171.1 L386.0,171.2 L386.5,171.5 L387.0,171.8 L387.5,171.9 L388.0,171.8 L388.5,171.7 L389.0,171.7 L389.5,171.8 L390.0,171.8 L390.5,171.6 L391.0,171.5 L391.5,171.6 L392.0,171.9 L392.5,172.1 L393.0,172.1 L393.5,172.1 L394.0,172.2 L394.5,172.3 L395.0,172.1 L395.5,171.9 L396.0,171.8 L396.5,171.8 L397.0,171.9 L397.5,172.2 L398.0,172.1 L398.5,172.1 L399.0,171.7 L399.5,171.8 L400.0,171.6 L400.5,171.8 L401.0,172.1 L401.5,172.3 L402.0,172.4 L402.5,172.1 L403.0,172.1 L403.5,172.0 L404.0,172.2 L404.5,172.2 L405.0,172.2 L405.5,172.1 L406.0,171.9 L406.5,171.8 L407.0,171.8 L407.5,172.1 L408.0,172.2 L408.5,172.3 L409.0,172.2 L409.5,172.3 L410.0,172.3 L410.5,172.1 L411.0,171.7 L411.5,171.4 L412.0,171.6 L412.5,171.9 L413.0,172.0 L413.5,171.5 L414.0,171.0 L414.5,170.7 L415.0,171.1 L415.5,171.3 L416.0,171.4 L416.5,171.2 L417.0,171.5 L417.5,171.6 L418.0,171.8 L418.5,171.4 L419.0,171.1 L419.5,170.5 L420.0,170.5 L420.5,170.3 L421.0,170.6 L421.5,170.8 L422.0,171.0 L422.5,170.8 L423.0,170.4 L423.5,170.4 L424.0,170.5 L424.5,170.7 L425.0,171.0 L425.5,171.1 L426.0,171.0 L426.5,170.6 L427.0,170.2 L427.5,169.9 L428.0,169.8 L428.5,169.8 L429.0,170.0 L429.5,170.1 L430.0,170.2 L430.5,170.1 L431.0,169.9 L431.5,169.9 L432.0,169.9 L432.5,169.9 L433.0,169.6 L433.5,169.3 L434.0,169.3 L434.5,169.2 L435.0,169.4 L435.5,169.3 L436.0,169.4 L436.5,169.3 L437.0,169.6 L437.5,169.6 L438.0,170.0 L438.5,170.0 L439.0,170.2 L439.5,169.8 L440.0,169.2 L440.5,168.9 L441.0,168.7 L441.5,169.0 L442.0,169.1 L442.5,169.4 L443.0,169.4 L443.5,169.4 L444.0,169.2 L444.5,169.0 L445.0,168.9 L445.5,168.7 L446.0,168.5 L446.5,168.6 L447.0,168.7 L447.5,168.7 L448.0,168.4 L448.5,168.6 L449.0,168.7 L449.5,168.9 L450.0,168.8 L450.5,168.9 L451.0,169.1 L451.5,169.1 L452.0,169.1 L452.5,169.0 L453.0,168.9 L453.5,168.8 L454.0,168.6 L454.5,168.3 L455.0,168.2 L455.5,168.1 L456.0,168.2 L456.5,168.1 L457.0,168.1 L457.5,168.1 L458.0,168.0 L458.5,168.0 L459.0,167.9 L459.5,167.9 L460.0,167.8 L460.5,167.9 L461.0,167.9 L461.5,168.0 L462.0,168.1 L462.5,168.1 L463.0,168.1 L463.5,167.9 L464.0,167.5 L464.5,167.0 L465.0,166.7 L465.5,166.7 L466.0,166.6 L466.5,166.6 L467.0,166.7 L467.5,167.0 L468.0,167.3 L468.5,167.4 L469.0,167.3 L469.5,167.1 L470.0,167.2 L470.5,167.0 L471.0,166.8 L471.5,166.4 L472.0,166.2 L472.5,166.3 L473.0,166.6 L473.5,166.9 L474.0,166.9 L474.5,166.9 L475.0,166.8 L475.5,166.7 L476.0,166.6 L476.5,166.5 L477.0,166.3 L477.5,166.2 L478.0,166.1 L478.5,166.3 L479.0,166.4 L479.5,166.4 L480.0,166.5 L480.5,166.4 L481.0,166.1 L481.5,165.8 L482.0,165.8 L482.5,166.0 L483.0,166.1 L483.5,166.2 L484.0,165.8 L484.5,165.5 L485.0,165.2 L485.5,165.4 L486.0,165.4 L486.5,165.3 L487.0,165.2 L487.5,165.1 L488.0,164.9 L488.5,164.5 L489.0,164.3 L489.5,164.1 L490.0,164.3 L490.5,164.4 L491.0,164.5 L491.5,164.2 L492.0,163.8 L492.5,163.1 L493.0,162.7 L493.5,162.4 L494.0,162.5 L494.5,162.7 L495.0,163.1 L495.5,163.4 L496.0,163.5 L496.5,163.2 L497.0,162.9 L497.5,162.6 L498.0,162.3 L498.5,162.1 L499.0,162.0 L499.5,162.1 L500.0,162.3 L500.5,162.3 L501.0,162.1 L501.5,162.0 L502.0,162.0 L502.5,161.8 L503.0,161.4 L503.5,161.2 L504.0,161.0 L504.5,161.0 L505.0,160.8 L505.5,160.6 L506.0,160.5 L506.5,160.4 L507.0,160.4 L507.5,159.9 L508.0,159.5 L508.5,159.1 L509.0,158.9 L509.5,158.8 L510.0,158.6 L510.5,158.3 L511.0,158.3 L511.5,158.6 L512.0,158.8 L512.5,158.9 L513.0,158.9 L513.5,158.8 L514.0,158.7 L514.5,158.8 L515.0,159.0 L515.5,159.1 L516.0,159.0 L516.5,159.0 L517.0,159.2 L517.1,159.2 L517.2,159.0 L517.3,158.7 L517.4,158.6 L517.5,158.9 L517.6,158.8 L517.7,158.7 L517.8,158.4 L517.9,158.0 L518.0,157.5 L518.1,157.0 L518.2,156.3 L518.3,155.6 L518.4,154.7 L518.5,153.8 L518.6,152.9 L518.7,151.8 L518.8,150.7 L518.9,149.2 L519.0,147.0 L519.1,144.0 L519.2,140.4 L519.3,133.8 L519.4,123.6 L519.5,112.1 L519.6,101.8 L519.7,95.1 L519.8,91.0 L519.9,87.3 L520.0,83.9 L520.1,81.1 L520.2,78.9 L520.3,77.5 L520.4,77.0 L520.5,77.6 L520.6,79.1 L520.7,81.5 L520.8,84.5 L520.9,87.9 L521.0,91.5 L521.1,95.1 L521.2,99.4 L521.3,104.8 L521.4,110.9 L521.5,117.4 L521.6,123.7 L521.7,129.3 L521.8,133.9 L521.9,138.0 L522.0,142.2 L522.1,145.8 L522.2,148.4 L522.3,149.4 L522.4,146.6 L522.5,139.6 L522.6,130.3 L522.7,121.0 L522.8,110.0 L522.9,96.6 L523.0,84.1 L523.1,75.7 L523.2,70.6 L523.3,66.0 L523.4,62.1 L523.5,59.0 L523.6,57.0 L523.7,56.3 L523.8,57.0 L523.9,58.8 L524.0,61.5 L524.1,64.8 L524.2,68.3 L524.3,71.8 L524.4,75.7 L524.5,80.3 L524.6,85.4 L524.7,90.8 L524.8,96.2 L524.9,101.6 L525.0,106.8 L525.1,112.2 L525.2,117.6 L525.3,123.1 L525.4,128.6 L525.5,133.9 L525.6,139.4 L525.7,145.0 L525.8,150.5 L525.9,155.6 L526.0,159.8 L526.1,163.4 L526.2,166.7 L526.3,169.4 L526.4,171.4 L526.5,172.8 L526.6,174.0 L526.7,175.0 L526.8,175.9 L526.9,176.6 L527.0,177.2 L527.1,177.8 L527.2,178.3 L527.3,178.8 L527.4,179.2 L527.5,179.4 L527.6,179.6 L527.7,179.8 L527.8,180.0 L527.9,180.2 L528.0,180.1 L528.1,180.3 L528.2,180.5 L528.3,180.8 L528.4,180.9 L528.5,181.0 L528.6,181.0 L528.7,181.1 L528.8,181.1 L528.9,181.3 L529.0,181.4 L529.5,182.0 L530.0,182.2 L530.5,182.3 L531.0,182.4 L531.5,182.4 L532.0,182.6 L532.5,182.6 L533.0,182.6 L533.5,182.6 L534.0,182.7 L534.5,182.9 L535.0,183.0 L535.5,182.9 L536.0,182.9 L536.5,182.9 L537.0,182.9 L537.5,182.8 L538.0,182.8 L538.5,182.9 L539.0,183.0 L539.5,183.1 L540.0,183.1 L540.5,183.0 L541.0,183.0 L541.5,183.0 L542.0,182.9 L542.5,182.9 L543.0,182.9 L543.5,182.8 L544.0,182.8 L544.5,182.7 L545.0,182.6 L545.5,182.5 L546.0,182.4 L546.5,182.2 L547.0,182.0 L547.5,181.8 L548.0,181.7 L548.5,181.7 L549.0,181.7 L549.5,181.7 L550.0,181.8 L550.5,181.9 L551.0,182.1 L551.5,182.3 L552.0,182.5 L552.5,182.7 L553.0,182.9 L553.5,183.0 L554.0,183.1 L554.5,183.1 L555.0,183.1 L555.5,183.2 L556.0,183.3 L556.5,183.3 L557.0,183.3 L557.5,183.3 L558.0,183.4 L558.5,183.4 L559.0,183.3 L559.5,183.4 L560.0,183.5 L560.5,183.6 L561.0,183.5 L561.5,183.5 L562.0,183.5 L562.5,183.6 L563.0,183.6 L563.5,183.5 L564.0,183.4 L564.5,183.3 L565.0,183.3 L565.5,183.3 L566.0,183.3 L566.5,183.2 L567.0,183.2 L567.5,183.2 L568.0,183.3 L568.5,183.5 L569.0,183.6 L569.5,183.5 L570.0,183.4 L570.5,183.3 L571.0,183.2 L571.5,183.2 L572.0,183.2 L572.5,183.3 L573.0,183.3 L573.5,183.2 L574.0,183.1 L574.5,183.0 L575.0,182.9 L575.5,182.9 L576.0,182.9 L576.5,183.0 L577.0,183.0 L577.5,183.0 L578.0,182.6 L578.5,182.0 L579.0,181.0 L579.5,179.9 L580.0,179.3 L580.5,180.0 L581.0,181.1 L581.5,182.0 L582.0,182.6 L582.5,183.0 L583.0,183.3 L583.5,183.3 L584.0,183.4 L584.5,183.3 L585.0,183.2 L585.5,183.2 L586.0,183.2 L586.5,183.2 L587.0,183.2 L587.5,183.2 L588.0,183.3 L588.5,183.3 L589.0,183.3 L589.5,183.4 L590.0,183.4 L590.5,183.5 L591.0,183.5 L591.5,183.4 L592.0,183.4 L592.5,183.4 L593.0,183.4 L593.5,183.3 L594.0,183.1 L594.5,182.9 L595.0,182.6 L595.5,181.8 L596.0,180.4 L596.5,179.7 L597.0,179.7 L597.5,179.9 L598.0,180.1 L598.5,180.1 L599.0,179.9 L599.5,179.8 L600.0,179.8 L600.5,180.6 L601.0,181.8 L601.5,182.7 L602.0,183.5 L602.5,184.0 L603.0,184.1 L603.5,184.1 L604.0,184.2 L604.5,184.2 L605.0,184.3 L605.5,184.3 L606.0,184.4 L606.5,184.4 L607.0,184.5 L607.5,184.5 L608.0,184.5 L608.5,184.6 L609.0,184.7 L609.5,184.7 L610.0,184.7 L610.5,184.7 L611.0,184.7 L611.5,184.6 L612.0,184.7 L612.5,184.7 L613.0,184.9 L613.5,184.9" fill="none" stroke="#31688e" stroke-width="1.65" stroke-linejoin="round" stroke-linecap="butt"/>
<path d="M38.6,105.1 L39.1,105.4 L39.6,105.8 L40.1,106.1 L40.6,106.5 L41.1,106.8 L41.6,107.0 L42.1,107.1 L42.6,107.0 L43.1,106.6 L43.6,106.6 L44.1,106.7 L44.6,107.2 L45.1,107.5 L45.6,107.9 L46.1,108.1 L46.6,108.4 L47.1,108.6 L47.6,108.5 L48.1,108.4 L48.6,108.4 L49.1,108.7 L49.6,108.8 L50.1,108.7 L50.6,108.6 L51.1,108.6 L51.6,108.8 L52.1,109.0 L52.6,109.3 L53.1,109.5 L53.6,109.9 L54.1,110.1 L54.6,110.1 L55.1,110.1 L55.6,110.3 L56.1,110.5 L56.6,110.4 L57.1,110.3 L57.6,110.4 L58.1,110.7 L58.6,111.1 L59.1,111.3 L59.6,111.4 L60.1,111.6 L60.6,111.6 L61.1,111.5 L61.6,111.4 L62.1,111.4 L62.6,111.7 L63.1,111.9 L63.6,111.9 L64.1,111.7 L64.6,111.8 L65.1,112.1 L65.6,112.5 L66.1,112.7 L66.6,112.6 L67.1,112.4 L67.6,112.2 L68.1,112.0 L68.6,111.8 L69.1,111.6 L69.6,111.6 L70.1,111.9 L70.6,112.3 L71.1,112.5 L71.6,112.5 L72.1,112.7 L72.6,112.8 L73.1,112.8 L73.6,112.5 L74.1,112.4 L74.6,112.3 L75.1,112.5 L75.6,112.5 L76.1,112.6 L76.6,112.6 L77.1,112.7 L77.6,112.7 L78.1,112.7 L78.6,112.7 L79.1,112.6 L79.6,112.7 L80.1,113.0 L80.6,113.0 L81.1,112.9 L81.6,112.8 L82.1,113.0 L82.6,113.0 L83.1,113.0 L83.6,113.0 L84.1,113.5 L84.6,113.9 L85.1,114.0 L85.6,113.8 L86.1,113.5 L86.6,113.2 L87.1,112.9 L87.6,112.7 L88.1,112.5 L88.6,112.2 L89.1,111.6 L89.6,111.0 L90.1,110.9 L90.6,111.2 L91.1,111.8 L91.6,112.2 L92.1,113.1 L92.6,114.2 L93.1,115.2 L93.6,115.6 L94.1,116.0 L94.6,116.7 L95.1,117.3 L95.6,117.7 L96.1,117.8 L96.6,117.9 L97.1,118.3 L97.6,118.6 L98.1,118.9 L98.6,119.1 L99.1,119.2 L99.6,119.1 L100.1,119.0 L100.6,118.9 L101.1,119.1 L101.6,119.4 L102.1,119.5 L102.6,119.6 L103.1,119.5 L103.6,119.7 L104.1,119.8 L104.6,120.2 L105.1,120.3 L105.6,120.3 L106.1,120.2 L106.6,120.3 L107.1,120.6 L107.6,121.0 L108.1,121.2 L108.6,121.3 L109.1,121.3 L109.6,121.0 L110.1,120.7 L110.6,120.6 L111.1,120.9 L111.6,121.2 L112.1,121.3 L112.6,121.5 L113.1,121.6 L113.6,121.6 L114.1,121.4 L114.6,121.3 L115.1,121.4 L115.6,121.6 L116.1,121.8 L116.6,121.6 L117.1,121.5 L117.6,121.5 L118.1,121.6 L118.6,121.5 L119.1,121.2 L119.6,121.1 L120.1,121.2 L120.6,121.5 L121.1,121.6 L121.6,121.4 L122.1,121.2 L122.6,121.1 L123.1,121.2 L123.6,121.2 L124.1,121.3 L124.6,121.4 L125.1,121.5 L125.6,121.5 L126.1,121.5 L126.6,121.5 L127.1,121.4 L127.6,121.4 L128.1,121.4 L128.6,121.3 L129.1,121.1 L129.6,120.9 L130.1,120.8 L130.6,120.9 L131.1,121.1 L131.6,121.3 L132.1,121.2 L132.6,121.2 L133.1,121.1 L133.6,121.3 L134.1,121.3 L134.6,121.3 L135.0,121.0 L135.2,120.7 L135.4,120.7 L135.6,120.9 L135.8,121.2 L136.0,121.3 L136.2,121.3 L136.4,121.1 L136.6,120.9 L136.8,120.6 L137.0,120.8 L137.2,121.0 L137.4,121.2 L137.6,120.6 L137.8,119.8 L138.0,118.9 L138.2,118.1 L138.4,116.8 L138.6,114.9 L138.8,112.7 L139.0,110.4 L139.2,107.8 L139.4,105.4 L139.6,103.2 L139.8,102.0 L140.0,101.7 L140.2,102.9 L140.4,105.1 L140.6,107.8 L140.8,110.6 L141.0,113.1 L141.2,115.5 L141.4,117.3 L141.6,118.7 L141.8,119.5 L142.0,120.2 L142.2,120.6 L142.4,120.9 L142.6,120.8 L142.8,120.7 L143.0,120.5 L143.2,120.5 L143.4,120.7 L143.6,121.1 L143.8,121.3 L144.0,121.3 L144.2,121.3 L144.4,121.1 L144.6,121.0 L144.8,121.0 L145.0,121.2 L145.2,121.3 L145.4,121.2 L145.6,121.1 L145.8,120.7 L146.0,120.2 L146.2,119.4 L146.4,118.4 L146.6,116.8 L146.8,114.4 L147.0,111.6 L147.2,108.4 L147.4,105.4 L147.6,102.7 L147.8,101.1 L148.0,100.3 L148.2,101.2 L148.4,103.2 L148.6,106.0 L148.8,109.0 L149.0,112.0 L149.2,114.7 L149.4,117.0 L149.6,118.9 L149.8,120.8 L150.0,122.6 L150.2,124.2 L150.4,125.2 L150.6,125.7 L150.8,125.9 L151.0,126.1 L151.2,126.1 L151.4,126.5 L151.6,126.8 L151.8,127.1 L152.0,127.0 L152.2,126.7 L152.4,126.5 L152.6,126.6 L152.8,126.5 L153.0,126.4 L153.5,126.4 L154.0,126.8 L154.5,127.3 L155.0,127.5 L155.5,127.4 L156.0,127.2 L156.5,127.1 L157.0,127.2 L157.5,127.1 L158.0,127.1 L158.5,126.9 L159.0,126.9 L159.5,126.8 L160.0,127.0 L160.5,127.2 L161.0,127.4 L161.5,127.5 L162.0,127.6 L162.5,127.4 L163.0,127.3 L163.5,127.0 L164.0,127.0 L164.5,126.8 L165.0,126.9 L165.5,126.9 L166.0,127.1 L166.5,127.1 L167.0,127.3 L167.5,127.5 L168.0,127.6 L168.5,127.3 L169.0,126.8 L169.5,126.6 L170.0,126.5 L170.5,126.7 L171.0,126.8 L171.5,127.2 L172.0,127.3 L172.5,127.4 L173.0,127.3 L173.5,127.2 L174.0,127.1 L174.5,126.9 L175.0,126.7 L175.5,126.5 L176.0,126.5 L176.5,126.6 L177.0,126.7 L177.5,126.9 L178.0,126.8 L178.5,126.9 L179.0,127.0 L179.5,127.3 L180.0,127.5 L180.5,127.7 L181.0,127.6 L181.5,127.7 L182.0,127.6 L182.5,127.5 L183.0,127.3 L183.5,127.2 L184.0,127.5 L184.5,127.7 L185.0,127.8 L185.5,127.7 L186.0,127.6 L186.5,127.4 L187.0,127.3 L187.5,127.4 L188.0,127.7 L188.5,128.1 L189.0,128.5 L189.5,128.5 L190.0,128.4 L190.5,127.9 L191.0,127.6 L191.5,127.6 L192.0,128.0 L192.5,128.3 L193.0,128.4 L193.5,128.2 L194.0,128.1 L194.5,128.2 L195.0,128.1 L195.5,128.1 L196.0,128.1 L196.5,128.3 L197.0,128.3 L197.5,128.3 L198.0,128.3 L198.5,128.0 L199.0,127.9 L199.5,127.8 L200.0,128.2 L200.5,128.4 L201.0,128.5 L201.5,128.4 L202.0,128.4 L202.5,128.4 L203.0,128.5 L203.5,128.5 L204.0,128.6 L204.5,128.6 L205.0,128.6 L205.5,128.6 L206.0,128.7 L206.5,128.8 L207.0,129.0 L207.5,129.1 L208.0,129.0 L208.5,129.0 L209.0,128.9 L209.5,129.1 L210.0,129.2 L210.5,129.2 L211.0,128.9 L211.5,128.9 L212.0,129.0 L212.5,129.2 L213.0,129.1 L213.5,128.8 L214.0,128.6 L214.5,128.4 L215.0,128.7 L215.5,129.0 L216.0,129.1 L216.5,128.9 L217.0,128.7 L217.5,128.6 L218.0,128.6 L218.5,128.6 L219.0,128.7 L219.5,128.8 L220.0,129.2 L220.5,129.2 L221.0,129.2 L221.5,129.0 L222.0,129.0 L222.5,128.8 L223.0,128.6 L223.5,128.4 L224.0,128.6 L224.5,128.8 L225.0,128.9 L225.5,128.9 L226.0,128.6 L226.5,128.3 L227.0,127.9 L227.5,127.8 L228.0,128.0 L228.5,128.1 L229.0,128.2 L229.5,128.1 L230.0,128.2 L230.5,128.3 L231.0,128.4 L231.5,128.3 L232.0,128.3 L232.5,128.2 L233.0,128.1 L233.5,128.1 L234.0,128.1 L234.5,128.2 L235.0,127.9 L235.5,127.7 L236.0,127.6 L236.5,127.9 L237.0,128.0 L237.5,128.0 L238.0,127.7 L238.5,127.8 L239.0,127.9 L239.5,127.9 L240.0,127.8 L240.5,127.7 L241.0,128.1 L241.5,128.4 L242.0,128.6 L242.5,128.7 L243.0,128.5 L243.5,128.4 L244.0,128.1 L244.5,128.2 L245.0,128.1 L245.5,128.2 L246.0,127.9 L246.5,127.8 L247.0,127.7 L247.5,127.8 L248.0,127.9 L248.5,128.1 L249.0,128.1 L249.5,128.0 L250.0,128.0 L250.5,128.0 L251.0,128.2 L251.5,128.1 L252.0,127.8 L252.5,127.7 L253.0,127.6 L253.5,127.8 L254.0,127.7 L254.5,127.7 L255.0,127.6 L255.5,127.7 L256.0,127.8 L256.5,127.7 L257.0,127.6 L257.5,127.3 L258.0,127.2 L258.5,127.2 L259.0,127.2 L259.5,127.1 L260.0,127.0 L260.5,127.0 L261.0,127.1 L261.5,127.3 L262.0,127.4 L262.5,127.5 L263.0,127.5 L263.5,127.6 L264.0,127.4 L264.5,127.2 L265.0,127.1 L265.5,127.1 L266.0,126.9 L266.5,126.9 L267.0,126.6 L267.5,126.4 L268.0,126.1 L268.5,125.9 L269.0,125.6 L269.5,125.0 L270.0,124.0 L270.5,122.8 L271.0,122.0 L271.5,121.8 L272.0,122.2 L272.5,123.0 L273.0,124.1 L273.5,125.0 L274.0,125.6 L274.5,126.0 L275.0,126.5 L275.5,126.9 L276.0,127.2 L276.5,127.1 L277.0,127.0 L277.5,127.0 L278.0,127.1 L278.5,127.4 L279.0,127.6 L279.5,127.9 L280.0,128.0 L280.5,127.9 L281.0,127.7 L281.5,127.6 L282.0,127.7 L282.5,127.7 L283.0,127.7 L283.5,127.5 L284.0,127.4 L284.5,126.9 L285.0,126.1 L285.5,125.1 L286.0,124.1 L286.5,123.0 L287.0,121.9 L287.5,120.8 L288.0,120.3 L288.5,120.2 L289.0,121.0 L289.5,121.9 L290.0,123.1 L290.5,124.2 L291.0,125.5 L291.5,126.5 L292.0,127.3 L292.5,127.8 L293.0,128.1 L293.5,128.7 L294.0,129.3 L294.5,129.8 L295.0,129.9 L295.5,130.0 L296.0,130.3 L296.5,130.8 L297.0,131.1 L297.5,131.0 L298.0,130.8 L298.5,130.7 L299.0,130.9 L299.5,131.2 L300.0,131.2 L300.5,131.0 L301.0,130.6 L301.5,130.4 L302.0,130.4 L302.5,130.7 L303.0,131.2 L303.5,131.4 L304.0,131.5 L304.5,131.3 L305.0,131.6 L305.5,131.8 L306.0,132.0 L306.5,131.8 L307.0,131.6 L307.5,131.5 L308.0,131.5 L308.5,131.6 L309.0,131.7 L309.5,131.9 L310.0,131.9 L310.5,131.9 L311.0,131.8 L311.5,131.9 L312.0,131.8 L312.5,131.7 L313.0,131.4 L313.5,131.6 L314.0,131.7 L314.5,131.9 L315.0,131.9 L315.5,131.9 L316.0,131.6 L316.5,131.6 L317.0,131.6 L317.5,131.8 L318.0,131.8 L318.5,131.7 L319.0,131.5 L319.5,131.3 L320.0,131.4 L320.5,131.8 L321.0,132.2 L321.5,132.5 L322.0,132.4 L322.5,132.3 L323.0,132.1 L323.5,132.1 L324.0,132.0 L324.5,131.6 L325.0,131.2 L325.5,131.0 L326.0,131.1 L326.5,131.4 L327.0,131.4 L327.5,131.6 L328.0,131.6 L328.5,131.7 L329.0,131.7 L329.5,131.6 L330.0,131.5 L330.5,131.2 L331.0,131.0 L331.5,130.9 L332.0,130.7 L332.5,130.9 L333.0,131.1 L333.5,131.4 L334.0,131.3 L334.5,131.4 L335.0,131.2 L335.5,131.3 L336.0,131.4 L336.5,131.7 L337.0,131.8 L337.5,131.6 L338.0,131.2 L338.5,130.8 L339.0,130.7 L339.5,130.7 L340.0,130.5 L340.5,130.3 L341.0,130.0 L341.5,129.8 L342.0,129.7 L342.5,129.8 L343.0,130.0 L343.5,130.2 L344.0,130.5 L344.5,130.6 L345.0,130.4 L345.5,129.9 L346.0,129.4 L346.5,129.2 L347.0,129.2 L347.5,129.0 L348.0,128.4 L348.5,127.4 L349.0,126.4 L349.5,126.2 L350.0,126.1 L350.5,126.7 L351.0,127.2 L351.5,128.1 L352.0,128.6 L352.5,128.9 L353.0,129.1 L353.5,129.4 L354.0,129.8 L354.5,129.9 L355.0,129.8 L355.5,129.4 L356.0,129.1 L356.5,128.8 L357.0,128.6 L357.5,128.0 L358.0,128.0 L358.5,128.4 L359.0,129.2 L359.5,129.8 L360.0,130.0 L360.5,130.2 L361.0,130.3 L361.5,130.6 L362.0,130.8 L362.5,131.0 L363.0,130.8 L363.5,130.7 L364.0,130.5 L364.5,130.6 L365.0,130.7 L365.5,130.8 L366.0,130.8 L366.5,131.0 L367.0,131.2 L367.5,131.2 L368.0,131.1 L368.5,131.0 L369.0,131.0 L369.5,131.0 L370.0,130.9 L370.5,130.8 L371.0,130.8 L371.5,130.9 L372.0,131.3 L372.5,131.4 L373.0,131.3 L373.5,131.0 L374.0,131.1 L374.5,131.2 L375.0,131.4 L375.5,131.4 L376.0,131.3 L376.5,131.2 L377.0,131.0 L377.5,131.0 L378.0,131.3 L378.5,131.7 L379.0,131.9 L379.5,131.8 L380.0,131.5 L380.5,131.1 L381.0,130.9 L381.5,131.0 L382.0,131.4 L382.5,131.7 L383.0,131.8 L383.5,131.6 L384.0,131.6 L384.5,131.4 L385.0,131.2 L385.5,130.9 L386.0,130.7 L386.5,130.5 L387.0,130.3 L387.5,130.3 L388.0,130.5 L388.5,130.8 L389.0,130.8 L389.5,130.8 L390.0,131.0 L390.5,131.5 L391.0,131.7 L391.5,131.5 L392.0,131.0 L392.5,130.8 L393.0,131.0 L393.5,131.2 L394.0,131.1 L394.5,130.9 L395.0,130.8 L395.5,130.7 L396.0,130.6 L396.5,130.7 L397.0,130.8 L397.5,130.8 L398.0,130.6 L398.5,130.5 L399.0,130.6 L399.5,130.6 L400.0,130.6 L400.5,130.5 L401.0,130.7 L401.5,130.7 L402.0,131.0 L402.5,130.9 L403.0,131.0 L403.5,130.9 L404.0,130.8 L404.5,130.6 L405.0,130.5 L405.5,130.3 L406.0,130.2 L406.5,130.1 L407.0,130.1 L407.5,129.9 L408.0,129.9 L408.5,129.8 L409.0,129.8 L409.5,129.7 L410.0,129.6 L410.5,129.6 L411.0,129.6 L411.5,129.9 L412.0,129.9 L412.5,130.1 L413.0,130.2 L413.5,130.3 L414.0,130.1 L414.5,129.9 L415.0,129.5 L415.5,129.3 L416.0,129.1 L416.5,129.1 L417.0,129.1 L417.5,129.2 L418.0,129.3 L418.5,129.7 L419.0,130.0 L419.5,130.2 L420.0,130.2 L420.5,130.3 L421.0,130.2 L421.5,130.1 L422.0,129.7 L422.5,129.5 L423.0,129.6 L423.5,130.0 L424.0,130.1 L424.5,130.1 L425.0,130.1 L425.5,130.2 L426.0,130.1 L426.5,130.0 L427.0,129.8 L427.5,129.7 L428.0,129.7 L428.5,129.9 L429.0,130.3 L429.5,130.5 L430.0,130.4 L430.5,130.0 L431.0,129.8 L431.5,129.6 L432.0,129.5 L432.5,129.4 L433.0,129.4 L433.5,129.5 L434.0,129.7 L434.5,129.7 L435.0,129.8 L435.5,129.6 L436.0,129.5 L436.5,129.3 L437.0,129.2 L437.5,129.2 L438.0,129.0 L438.5,129.0 L439.0,128.9 L439.5,129.2 L440.0,129.4 L440.5,129.5 L441.0,129.3 L441.5,129.3 L442.0,129.7 L442.5,129.7 L443.0,129.7 L443.5,129.4 L444.0,129.4 L444.5,129.2 L445.0,129.2 L445.5,129.3 L446.0,129.4 L446.5,129.2 L447.0,128.8 L447.5,128.7 L448.0,128.8 L448.5,128.8 L449.0,128.6 L449.5,128.4 L450.0,128.3 L450.5,128.3 L451.0,128.4 L451.5,128.5 L452.0,128.5 L452.5,128.7 L453.0,128.7 L453.5,128.9 L454.0,129.1 L454.5,129.1 L455.0,128.7 L455.5,128.0 L456.0,127.6 L456.5,127.6 L457.0,127.9 L457.5,128.0 L458.0,127.9 L458.5,127.8 L459.0,128.0 L459.5,128.2 L460.0,128.6 L460.5,128.8 L461.0,129.0 L461.5,128.9 L462.0,128.6 L462.5,128.2 L463.0,127.9 L463.5,127.7 L464.0,127.6 L464.5,127.6 L465.0,127.9 L465.5,128.0 L466.0,127.9 L466.5,127.8 L467.0,127.6 L467.5,127.6 L468.0,127.7 L468.5,127.9 L469.0,128.3 L469.5,128.4 L470.0,128.3 L470.5,127.8 L471.0,127.3 L471.5,127.3 L472.0,127.4 L472.5,127.6 L473.0,127.4 L473.5,127.2 L474.0,126.7 L474.5,126.8 L475.0,127.0 L475.5,127.3 L476.0,127.3 L476.5,127.1 L477.0,126.6 L477.5,126.3 L478.0,126.4 L478.5,127.0 L479.0,127.4 L479.5,127.2 L480.0,126.6 L480.5,126.2 L481.0,125.8 L481.5,126.0 L482.0,126.1 L482.5,126.4 L483.0,126.3 L483.5,126.1 L484.0,125.6 L484.5,125.5 L485.0,125.5 L485.5,125.8 L486.0,125.6 L486.5,125.5 L487.0,125.2 L487.5,125.4 L488.0,125.5 L488.5,125.8 L489.0,125.9 L489.5,125.9 L490.0,125.4 L490.5,124.9 L491.0,124.5 L491.5,124.3 L492.0,124.3 L492.5,124.1 L493.0,123.8 L493.5,123.5 L494.0,123.4 L494.5,123.5 L495.0,123.7 L495.5,123.9 L496.0,123.8 L496.5,123.7 L497.0,123.6 L497.5,123.3 L498.0,123.0 L498.5,122.7 L499.0,122.7 L499.5,122.8 L500.0,122.8 L500.5,122.9 L501.0,122.9 L501.5,123.0 L502.0,122.9 L502.5,122.5 L503.0,122.2 L503.5,122.1 L504.0,122.1 L504.5,122.2 L505.0,122.3 L505.5,122.6 L506.0,122.7 L506.5,122.6 L507.0,122.3 L507.5,121.9 L508.0,121.2 L508.5,120.6 L509.0,119.9 L509.5,119.3 L510.0,118.8 L510.5,118.5 L511.0,118.5 L511.5,118.4 L512.0,118.3 L512.5,118.2 L513.0,118.4 L513.5,118.4 L514.0,118.6 L514.5,118.6 L515.0,118.9 L515.5,118.9 L516.0,119.1 L516.5,119.0 L517.0,119.0 L517.1,118.9 L517.2,118.8 L517.3,118.7 L517.4,118.6 L517.5,118.9 L517.6,118.8 L517.7,118.6 L517.8,118.4 L517.9,118.0 L518.0,117.5 L518.1,116.9 L518.2,116.2 L518.3,115.5 L518.4,114.7 L518.5,113.8 L518.6,112.8 L518.7,111.8 L518.8,110.7 L518.9,109.4 L519.0,107.4 L519.1,104.8 L519.2,101.6 L519.3,95.2 L519.4,85.0 L519.5,73.5 L519.6,63.1 L519.7,56.3 L519.8,52.2 L519.9,48.5 L520.0,45.1 L520.1,42.2 L520.2,40.1 L520.3,38.7 L520.4,38.2 L520.5,38.7 L520.6,40.3 L520.7,42.7 L520.8,45.7 L520.9,49.1 L521.0,52.7 L521.1,56.3 L521.2,60.5 L521.3,66.0 L521.4,72.1 L521.5,78.6 L521.6,84.8 L521.7,90.5 L521.8,95.1 L521.9,99.2 L522.0,103.4 L522.1,107.0 L522.2,109.6 L522.3,110.6 L522.4,107.8 L522.5,100.7 L522.6,91.5 L522.7,82.1 L522.8,71.1 L522.9,57.8 L523.0,45.2 L523.1,36.9 L523.2,31.8 L523.3,27.2 L523.4,23.3 L523.5,20.2 L523.6,18.2 L523.7,17.5 L523.8,18.1 L523.9,20.0 L524.0,22.7 L524.1,25.9 L524.2,29.5 L524.3,33.0 L524.4,36.8 L524.5,41.4 L524.6,46.5 L524.7,51.9 L524.8,57.4 L524.9,62.7 L525.0,68.0 L525.1,73.4 L525.2,78.8 L525.3,84.3 L525.4,89.7 L525.5,95.1 L525.6,100.6 L525.7,106.2 L525.8,111.7 L525.9,116.7 L526.0,120.9 L526.1,124.5 L526.2,127.8 L526.3,130.6 L526.4,132.6 L526.5,134.0 L526.6,135.2 L526.7,136.2 L526.8,137.0 L526.9,137.8 L527.0,138.4 L527.1,139.0 L527.2,139.5 L527.3,140.0 L527.4,140.4 L527.5,140.6 L527.6,140.8 L527.7,141.0 L527.8,141.1 L527.9,141.3 L528.0,141.4 L528.1,141.6 L528.2,141.8 L528.3,141.9 L528.4,142.0 L528.5,142.2 L528.6,142.3 L528.7,142.2 L528.8,142.1 L528.9,142.1 L529.0,142.2 L529.5,142.7 L530.0,143.1 L530.5,143.4 L531.0,143.6 L531.5,143.8 L532.0,143.8 L532.5,143.9 L533.0,143.9 L533.5,144.0 L534.0,144.1 L534.5,144.2 L535.0,144.1 L535.5,144.2 L536.0,144.2 L536.5,144.3 L537.0,144.3 L537.5,144.2 L538.0,144.3 L538.5,144.3 L539.0,144.4 L539.5,144.3 L540.0,144.3 L540.5,144.4 L541.0,144.5 L541.5,144.5 L542.0,144.5 L542.5,144.4 L543.0,144.3 L543.5,144.2 L544.0,144.3 L544.5,144.3 L545.0,144.2 L545.5,144.0 L546.0,143.8 L546.5,143.5 L547.0,143.3 L547.5,143.2 L548.0,143.0 L548.5,142.9 L549.0,142.7 L549.5,142.7 L550.0,142.7 L550.5,142.8 L551.0,143.0 L551.5,143.3 L552.0,143.6 L552.5,143.9 L553.0,144.1 L553.5,144.2 L554.0,144.3 L554.5,144.3 L555.0,144.4 L555.5,144.4 L556.0,144.5 L556.5,144.5 L557.0,144.6 L557.5,144.6 L558.0,144.7 L558.5,144.6 L559.0,144.6 L559.5,144.5 L560.0,144.5 L560.5,144.5 L561.0,144.6 L561.5,144.6 L562.0,144.7 L562.5,144.8 L563.0,144.7 L563.5,144.7 L564.0,144.7 L564.5,144.7 L565.0,144.7 L565.5,144.8 L566.0,144.9 L566.5,144.9 L567.0,144.8 L567.5,144.8 L568.0,144.7 L568.5,144.7 L569.0,144.6 L569.5,144.7 L570.0,144.8 L570.5,144.9 L571.0,144.9 L571.5,144.8 L572.0,144.8 L572.5,144.7 L573.0,144.6 L573.5,144.6 L574.0,144.6 L574.5,144.7 L575.0,144.8 L575.5,144.7 L576.0,144.6 L576.5,144.4 L577.0,144.2 L577.5,143.9 L578.0,143.5 L578.5,142.5 L579.0,141.0 L579.5,139.5 L580.0,139.4 L580.5,140.9 L581.0,142.6 L581.5,143.7 L582.0,144.3 L582.5,144.6 L583.0,144.7 L583.5,144.8 L584.0,144.8 L584.5,144.8 L585.0,144.8 L585.5,144.8 L586.0,144.7 L586.5,144.7 L587.0,144.8 L587.5,144.9 L588.0,145.0 L588.5,145.0 L589.0,145.0 L589.5,145.0 L590.0,145.0 L590.5,145.0 L591.0,144.8 L591.5,144.7 L592.0,144.7 L592.5,144.8 L593.0,144.8 L593.5,144.8 L594.0,144.8 L594.5,144.7 L595.0,144.4 L595.5,143.4 L596.0,142.1 L596.5,141.3 L597.0,141.4 L597.5,141.5 L598.0,141.6 L598.5,141.6 L599.0,141.4 L599.5,141.2 L600.0,141.1 L600.5,141.8 L601.0,143.1 L601.5,144.2 L602.0,145.0 L602.5,145.4 L603.0,145.4 L603.5,145.5 L604.0,145.6 L604.5,145.6 L605.0,145.6 L605.5,145.7 L606.0,145.8 L606.5,145.9 L607.0,145.9 L607.5,145.9 L608.0,145.9 L608.5,145.9 L609.0,145.9 L609.5,145.9 L610.0,146.0 L610.5,146.0 L611.0,146.1 L611.5,146.1 L612.0,146.1 L612.5,146.2 L613.0,146.2 L613.5,146.2" fill="none" stroke="#440154" stroke-width="1.65" stroke-linejoin="round" stroke-linecap="butt"/>
</g>
<rect x="38.5" y="4.5" width="575.0" height="265.0" fill="none" stroke="#8c8c8c" stroke-width="1"/>
<path d="M602.50,269.50 v-4.5 M602.50,4.50 v4.5 M579.50,269.50 v-2.5 M579.50,4.50 v2.5 M555.50,269.50 v-2.5 M555.50,4.50 v2.5 M532.50,269.50 v-2.5 M532.50,4.50 v2.5 M508.50,269.50 v-4.5 M508.50,4.50 v4.5 M485.50,269.50 v-2.5 M485.50,4.50 v2.5 M461.50,269.50 v-2.5 M461.50,4.50 v2.5 M438.50,269.50 v-2.5 M438.50,4.50 v2.5 M414.50,269.50 v-4.5 M414.50,4.50 v4.5 M391.50,269.50 v-2.5 M391.50,4.50 v2.5 M367.50,269.50 v-2.5 M367.50,4.50 v2.5 M344.50,269.50 v-2.5 M344.50,4.50 v2.5 M320.50,269.50 v-4.5 M320.50,4.50 v4.5 M297.50,269.50 v-2.5 M297.50,4.50 v2.5 M273.50,269.50 v-2.5 M273.50,4.50 v2.5 M250.50,269.50 v-2.5 M250.50,4.50 v2.5 M226.50,269.50 v-4.5 M226.50,4.50 v4.5 M203.50,269.50 v-2.5 M203.50,4.50 v2.5 M179.50,269.50 v-2.5 M179.50,4.50 v2.5 M156.50,269.50 v-2.5 M156.50,4.50 v2.5 M132.50,269.50 v-4.5 M132.50,4.50 v4.5 M109.50,269.50 v-2.5 M109.50,4.50 v2.5 M85.50,269.50 v-2.5 M85.50,4.50 v2.5 M62.50,269.50 v-2.5 M62.50,4.50 v2.5 M38.50,263.50 h4.5 M613.50,263.50 h-4.5 M38.50,247.50 h2.5 M613.50,247.50 h-2.5 M38.50,230.50 h4.5 M613.50,230.50 h-4.5 M38.50,214.50 h2.5 M613.50,214.50 h-2.5 M38.50,198.50 h4.5 M613.50,198.50 h-4.5 M38.50,182.50 h2.5 M613.50,182.50 h-2.5 M38.50,166.50 h4.5 M613.50,166.50 h-4.5 M38.50,150.50 h2.5 M613.50,150.50 h-2.5 M38.50,133.50 h4.5 M613.50,133.50 h-4.5 M38.50,117.50 h2.5 M613.50,117.50 h-2.5 M38.50,101.50 h4.5 M613.50,101.50 h-4.5 M38.50,85.50 h2.5 M613.50,85.50 h-2.5 M38.50,69.50 h4.5 M613.50,69.50 h-4.5 M38.50,53.50 h2.5 M613.50,53.50 h-2.5 M38.50,36.50 h4.5 M613.50,36.50 h-4.5 M38.50,20.50 h2.5 M613.50,20.50 h-2.5" stroke="#8c8c8c" stroke-width="1" fill="none"/>
<defs><linearGradient id="ag" x1="0" y1="69" x2="0" y2="278" gradientUnits="userSpaceOnUse"><stop offset="0" stop-color="#9fb9da"/><stop offset="0.5" stop-color="#ccd8e9"/><stop offset="1" stop-color="#f0f2f6"/></linearGradient></defs>
<path d="M650.5,69 L684.3,112.9 H672.6 V278.4 H629.5 V112.9 H616.7 Z" fill="url(#ag)" stroke="#1f5096" stroke-width="1.5" stroke-linejoin="miter"/>
<path d="M142.7,83.0 L140.8,92.5" stroke="#000" stroke-width="0.8" fill="none"/><path d="M139.7,98.2 L138.0,91.9 L143.7,93.1 Z" fill="#000"/>
<path d="M145.3,83.0 L147.1,90.2" stroke="#000" stroke-width="0.8" fill="none"/><path d="M148.5,95.8 L144.3,90.9 L149.9,89.5 Z" fill="#000"/>
<path d="M350.1,101.0 L349.7,117.2" stroke="#000" stroke-width="0.8" fill="none"/><path d="M349.6,123.0 L346.8,117.1 L352.6,117.3 Z" fill="#000"/>
<path d="M357.2,101.0 L357.4,118.4" stroke="#000" stroke-width="0.8" fill="none"/><path d="M357.4,124.2 L354.5,118.4 L360.2,118.4 Z" fill="#000"/>
<path d="M579.9,122.2 L579.9,126.5" stroke="#000" stroke-width="0.8" fill="none"/><path d="M579.9,132.3 L577.0,126.5 L582.8,126.5 Z" fill="#000"/>
<path d="M76.2,224.0 L85.9,234.8" stroke="#000" stroke-width="0.8" fill="none"/><path d="M89.8,239.1 L83.8,236.7 L88.1,232.8 Z" fill="#000"/>
<path d="M275.9,232.0 L273.5,236.6" stroke="#000" stroke-width="0.8" fill="none"/><path d="M270.8,241.7 L270.9,235.2 L276.1,237.9 Z" fill="#000"/>
<path d="M283.4,232.0 L285.1,234.9" stroke="#000" stroke-width="0.8" fill="none"/><path d="M288.0,239.9 L282.6,236.3 L287.6,233.4 Z" fill="#000"/>
<path d="M553.3,246.0 L551.6,250.0" stroke="#000" stroke-width="0.8" fill="none"/><path d="M549.3,255.3 L548.9,248.8 L554.3,251.1 Z" fill="#000"/>
<text x="599.7" y="279.8" font-size="10.0" text-anchor="start" fill="#333" font-weight="normal" textLength="5.6" lengthAdjust="spacingAndGlyphs">0</text>
<text x="499.7" y="279.8" font-size="10.0" text-anchor="start" fill="#333" font-weight="normal" textLength="17.6" lengthAdjust="spacingAndGlyphs">100</text>
<text x="405.7" y="279.8" font-size="10.0" text-anchor="start" fill="#333" font-weight="normal" textLength="17.6" lengthAdjust="spacingAndGlyphs">200</text>
<text x="311.7" y="279.8" font-size="10.0" text-anchor="start" fill="#333" font-weight="normal" textLength="17.6" lengthAdjust="spacingAndGlyphs">300</text>
<text x="217.7" y="279.8" font-size="10.0" text-anchor="start" fill="#333" font-weight="normal" textLength="17.6" lengthAdjust="spacingAndGlyphs">400</text>
<text x="123.7" y="279.8" font-size="10.0" text-anchor="start" fill="#333" font-weight="normal" textLength="17.6" lengthAdjust="spacingAndGlyphs">500</text>
<text x="30.0" y="279.8" font-size="10.0" text-anchor="start" fill="#333" font-weight="normal" textLength="17.6" lengthAdjust="spacingAndGlyphs">600</text>
<text x="15.3" y="266.9" font-size="10.0" text-anchor="start" fill="#333" font-weight="normal" textLength="20.6" lengthAdjust="spacingAndGlyphs">0.00</text>
<text x="15.3" y="234.6" font-size="10.0" text-anchor="start" fill="#333" font-weight="normal" textLength="20.6" lengthAdjust="spacingAndGlyphs">0.25</text>
<text x="15.3" y="202.2" font-size="10.0" text-anchor="start" fill="#333" font-weight="normal" textLength="20.6" lengthAdjust="spacingAndGlyphs">0.50</text>
<text x="15.3" y="169.8" font-size="10.0" text-anchor="start" fill="#333" font-weight="normal" textLength="20.6" lengthAdjust="spacingAndGlyphs">0.75</text>
<text x="15.3" y="137.5" font-size="10.0" text-anchor="start" fill="#333" font-weight="normal" textLength="20.6" lengthAdjust="spacingAndGlyphs">1.00</text>
<text x="15.3" y="105.2" font-size="10.0" text-anchor="start" fill="#333" font-weight="normal" textLength="20.6" lengthAdjust="spacingAndGlyphs">1.25</text>
<text x="15.3" y="72.8" font-size="10.0" text-anchor="start" fill="#333" font-weight="normal" textLength="20.6" lengthAdjust="spacingAndGlyphs">1.50</text>
<text x="15.3" y="40.4" font-size="10.0" text-anchor="start" fill="#333" font-weight="normal" textLength="20.6" lengthAdjust="spacingAndGlyphs">1.75</text>
<text x="15.3" y="8.1" font-size="10.0" text-anchor="start" fill="#333" font-weight="normal" textLength="20.6" lengthAdjust="spacingAndGlyphs">2.00</text>
<text x="275.7" y="293.6" font-size="12.0" text-anchor="start" fill="#333" font-weight="normal" textLength="99.5" lengthAdjust="spacingAndGlyphs">binding energy [eV]</text>
<text transform="translate(9.9,190.1) rotate(-90)" font-size="12" fill="#333" textLength="106.2" lengthAdjust="spacingAndGlyphs">norm. counts [a. u.]</text>
<text x="54.0" y="27.3" font-size="12.6" text-anchor="start" fill="#2b2b2b" font-weight="normal" textLength="13.6" lengthAdjust="spacingAndGlyphs" font-style="italic">hν</text>
<text x="71.3" y="27.3" font-size="12.6" text-anchor="start" fill="#2b2b2b" font-weight="normal" textLength="10.4" lengthAdjust="spacingAndGlyphs">=</text>
<text x="84.8" y="27.3" font-size="12.6" text-anchor="start" fill="#2b2b2b" font-weight="normal" textLength="18.4" lengthAdjust="spacingAndGlyphs">700</text>
<text x="106.1" y="27.3" font-size="12.6" text-anchor="start" fill="#2b2b2b" font-weight="normal" textLength="13.5" lengthAdjust="spacingAndGlyphs">eV</text>
<text x="57.4" y="44.2" font-size="12.6" text-anchor="start" fill="#2b2b2b" font-weight="normal" textLength="10.4" lengthAdjust="spacingAndGlyphs">Θ</text>
<text x="71.3" y="44.2" font-size="12.6" text-anchor="start" fill="#2b2b2b" font-weight="normal" textLength="10.4" lengthAdjust="spacingAndGlyphs">=</text>
<text x="84.8" y="44.2" font-size="12.6" text-anchor="start" fill="#2b2b2b" font-weight="normal" textLength="12.1" lengthAdjust="spacingAndGlyphs">60</text>
<text x="96.8" y="44.2" font-size="12.6" text-anchor="start" fill="#2b2b2b" font-weight="normal" textLength="5.8" lengthAdjust="spacingAndGlyphs">°</text>
<text x="127.3" y="79.0" font-size="12.6" text-anchor="start" fill="#2a6db5" font-weight="bold" textLength="33.9" lengthAdjust="spacingAndGlyphs" word-spacing="-1.4">Sn 3 d</text>
<text x="88.9" y="102.0" font-size="12.6" text-anchor="start" fill="#ff0000" font-weight="bold" textLength="27.2" lengthAdjust="spacingAndGlyphs" word-spacing="-1.4">O 1 s</text>
<text x="314.2" y="94.7" font-size="12.6" text-anchor="start" fill="#2a6db5" font-weight="bold" textLength="29.2" lengthAdjust="spacingAndGlyphs" word-spacing="-1.4">Sn M</text>
<text x="343.9" y="96.9" font-size="9.4" fill="#2a6db5" font-weight="bold" textLength="15.2" lengthAdjust="spacing">5<tspan font-size="12" dy="0.6">/</tspan><tspan dy="-0.6">4</tspan></text>
<text x="361.0" y="94.7" font-size="12.6" text-anchor="start" fill="#2a6db5" font-weight="bold" textLength="7.9" lengthAdjust="spacingAndGlyphs" word-spacing="-1.4">N</text>
<text x="369.5" y="96.9" font-size="9.4" fill="#2a6db5" font-weight="bold" textLength="10.1" lengthAdjust="spacing">45</text>
<text x="381.5" y="94.7" font-size="12.6" text-anchor="start" fill="#2a6db5" font-weight="bold" textLength="7.9" lengthAdjust="spacingAndGlyphs" word-spacing="-1.4">N</text>
<text x="390.0" y="96.9" font-size="9.4" fill="#2a6db5" font-weight="bold" textLength="10.8" lengthAdjust="spacing">45</text>
<text x="322.6" y="113.7" font-size="12.6" text-anchor="start" fill="#ff0000" font-weight="bold" textLength="25.6" lengthAdjust="spacingAndGlyphs" word-spacing="-1.4">C 1 s</text>
<text x="528.5" y="18.4" font-size="12.6" text-anchor="start" fill="#1a8a3c" font-weight="bold" textLength="31.5" lengthAdjust="spacingAndGlyphs" word-spacing="-1.4">Au 4 f</text>
<text x="560.5" y="20.4" font-size="9.4" fill="#1a8a3c" font-weight="bold" textLength="16.0" lengthAdjust="spacing">7<tspan font-size="12" dy="0.6">/</tspan><tspan dy="-0.6">2</tspan></text>
<text x="471.2" y="33.7" font-size="12.6" text-anchor="start" fill="#1a8a3c" font-weight="bold" textLength="31.5" lengthAdjust="spacingAndGlyphs" word-spacing="-1.4">Au 4 f</text>
<text x="503.2" y="35.7" font-size="9.4" fill="#1a8a3c" font-weight="bold" textLength="16.0" lengthAdjust="spacing">5<tspan font-size="12" dy="0.6">/</tspan><tspan dy="-0.6">2</tspan></text>
<text x="563.5" y="117.7" font-size="12.6" text-anchor="start" fill="#2a6db5" font-weight="bold" textLength="33.3" lengthAdjust="spacingAndGlyphs" word-spacing="-1.4">Sn 4 d</text>
<text x="590.0" y="137.4" font-size="12.6" text-anchor="start" fill="#111" font-weight="bold" textLength="17.7" lengthAdjust="spacingAndGlyphs" word-spacing="-1.4">VB</text>
<text x="44.4" y="218.2" font-size="12.6" text-anchor="start" fill="#1a8a3c" font-weight="bold" textLength="34.0" lengthAdjust="spacingAndGlyphs" word-spacing="-1.4">Au 4 p</text>
<text x="79.0" y="220.2" font-size="9.4" fill="#1a8a3c" font-weight="bold" textLength="16.2" lengthAdjust="spacing">3<tspan font-size="12" dy="0.6">/</tspan><tspan dy="-0.6">2</tspan></text>
<text x="262.5" y="227.8" font-size="12.6" text-anchor="start" fill="#1a8a3c" font-weight="bold" textLength="34.8" lengthAdjust="spacingAndGlyphs" word-spacing="-1.4">Au 4 d</text>
<text x="530.8" y="239.8" font-size="12.6" text-anchor="start" fill="#1a8a3c" font-weight="bold" textLength="34.0" lengthAdjust="spacingAndGlyphs" word-spacing="-1.4">Au 5 p</text>
<text x="565.4" y="241.8" font-size="9.4" fill="#1a8a3c" font-weight="bold" textLength="16.2" lengthAdjust="spacing">3<tspan font-size="12" dy="0.6">/</tspan><tspan dy="-0.6">2</tspan></text>
<text x="388.7" y="123.9" font-size="15.8" text-anchor="start" fill="#3a3a3a" font-weight="normal">√</text>
<path d="M397.2,111.6 H405.1" stroke="#2b2b2b" stroke-width="0.8" fill="none"/>
<text x="397.6" y="122.6" font-size="12.6" text-anchor="start" fill="#2b2b2b" font-weight="normal" textLength="7.4" lengthAdjust="spacingAndGlyphs">3</text>
<text x="409.7" y="122.6" font-size="12.6" text-anchor="start" fill="#2b2b2b" font-weight="normal" textLength="14.3" lengthAdjust="spacingAndGlyphs">Au</text>
<text x="424.3" y="124.8" font-size="8.8" text-anchor="start" fill="#2b2b2b" font-weight="normal" textLength="4.1" lengthAdjust="spacingAndGlyphs">2</text>
<text x="428.7" y="122.6" font-size="12.6" text-anchor="start" fill="#2b2b2b" font-weight="normal" textLength="14.0" lengthAdjust="spacingAndGlyphs">Sn</text>
<text x="447.2" y="122.6" font-size="12.6" text-anchor="start" fill="#2b2b2b" font-weight="normal" textLength="22.3" lengthAdjust="spacingAndGlyphs">alloy</text>
<text x="363.1" y="160.1" font-size="12.6" text-anchor="start" fill="#2b2b2b" font-weight="normal" textLength="11.4" lengthAdjust="spacingAndGlyphs">(2</text>
<text x="376.9" y="162.3" font-size="16.4" text-anchor="start" fill="#4a4a4a" font-weight="normal">×</text>
<text x="389.4" y="160.1" font-size="12.6" text-anchor="start" fill="#2b2b2b" font-weight="normal" textLength="10.7" lengthAdjust="spacingAndGlyphs">2)</text>
<text x="401.8" y="162.4" font-size="16.5" text-anchor="start" fill="#4a4a4a" font-weight="normal" textLength="6.0" lengthAdjust="spacingAndGlyphs">/</text>
<text x="410.3" y="161.8" font-size="16.6" text-anchor="start" fill="#3a3a3a" font-weight="normal">√</text>
<path d="M419.3,148.9 H426.8" stroke="#2b2b2b" stroke-width="0.8" fill="none"/>
<text x="419.8" y="160.1" font-size="12.6" text-anchor="start" fill="#2b2b2b" font-weight="normal" textLength="6.8" lengthAdjust="spacingAndGlyphs">3</text>
<text x="431.0" y="160.1" font-size="12.6" text-anchor="start" fill="#2b2b2b" font-weight="normal" textLength="63.9" lengthAdjust="spacingAndGlyphs">mixed phase</text>
<text x="392.6" y="204.7" font-size="12.6" text-anchor="start" fill="#2b2b2b" font-weight="normal" textLength="11.2" lengthAdjust="spacingAndGlyphs">(2</text>
<text x="407.4" y="206.9" font-size="16.4" text-anchor="start" fill="#4a4a4a" font-weight="normal">×</text>
<text x="419.9" y="204.7" font-size="12.6" text-anchor="start" fill="#2b2b2b" font-weight="normal" textLength="11.4" lengthAdjust="spacingAndGlyphs">2)</text>
<text x="436.4" y="204.7" font-size="12.6" text-anchor="start" fill="#2b2b2b" font-weight="normal" textLength="29.2" lengthAdjust="spacingAndGlyphs">phase</text>
<text x="390.7" y="247.3" font-size="12.6" text-anchor="start" fill="#2b2b2b" font-weight="normal" textLength="26.3" lengthAdjust="spacingAndGlyphs">clean</text>
<text x="422.1" y="247.3" font-size="12.6" text-anchor="start" fill="#2b2b2b" font-weight="normal" textLength="44.2" lengthAdjust="spacingAndGlyphs">Au(111)</text>
<text x="641.4" y="95.2" font-size="12.6" text-anchor="start" fill="#2b2b2b" font-weight="normal" textLength="18.8" lengthAdjust="spacingAndGlyphs">film</text>
<text x="627.0" y="112.0" font-size="12.6" text-anchor="start" fill="#2b2b2b" font-weight="normal" textLength="47.7" lengthAdjust="spacingAndGlyphs">thickness</text>
<text x="636.6" y="128.3" font-size="12.6" text-anchor="start" fill="#2b2b2b" font-weight="normal" textLength="28.0" lengthAdjust="spacingAndGlyphs">(ML)</text>
<text x="632.2" y="153.6" font-size="17.0" text-anchor="start" fill="#222" font-weight="normal" textLength="9.4" lengthAdjust="spacingAndGlyphs">≈</text>
<text x="646.4" y="151.9" font-size="12.6" text-anchor="start" fill="#222" font-weight="normal" textLength="23.2" lengthAdjust="spacingAndGlyphs">0.33</text>
<text x="635.1" y="189.6" font-size="17.0" text-anchor="start" fill="#222" font-weight="normal" textLength="9.4" lengthAdjust="spacingAndGlyphs">≈</text>
<text x="649.9" y="187.9" font-size="12.6" text-anchor="start" fill="#222" font-weight="normal" textLength="16.9" lengthAdjust="spacingAndGlyphs">0.3</text>
<text x="632.2" y="228.1" font-size="17.0" text-anchor="start" fill="#222" font-weight="normal" textLength="9.4" lengthAdjust="spacingAndGlyphs">≈</text>
<text x="646.2" y="226.4" font-size="12.6" text-anchor="start" fill="#222" font-weight="normal" textLength="23.5" lengthAdjust="spacingAndGlyphs">0.28</text>
<text x="637.1" y="268.1" font-size="12.6" text-anchor="start" fill="#2b2b2b" font-weight="normal" textLength="26.4" lengthAdjust="spacingAndGlyphs">clean</text>
</svg>
</body></html>
